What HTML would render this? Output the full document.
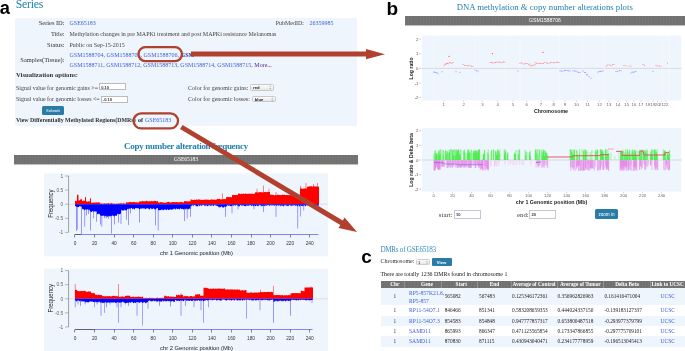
<!DOCTYPE html>
<html><head><meta charset="utf-8"><style>
html,body{margin:0;padding:0;background:#fff;width:685px;height:351px;overflow:hidden;}
.t{position:absolute;white-space:nowrap;}
.r{position:absolute;}
.ov{position:absolute;left:0;top:0;}
#root{filter:blur(0.3px);position:relative;width:685px;height:351px;overflow:hidden;}
</style></head><body><div id="root">
<div class="r" style="left:15px;top:17.5px;width:342px;height:108.5px;background:#eff5fc;"></div>
<div class="r" style="left:99px;top:83.4px;width:27.4px;height:7px;background:#fff;border:0.6px solid #bbb;box-sizing:border-box;"></div>
<div class="r" style="left:100.6px;top:95.6px;width:27.4px;height:7px;background:#fff;border:0.6px solid #bbb;box-sizing:border-box;"></div>
<div class="r" style="left:249.8px;top:84.2px;width:24px;height:6.4px;background:linear-gradient(#fdfdfd,#e6e6e6);border:0.5px solid #c8c8c8;border-radius:1.5px;box-sizing:border-box;"></div>
<div class="r" style="left:252px;top:96px;width:24px;height:6.4px;background:linear-gradient(#fdfdfd,#e6e6e6);border:0.5px solid #c8c8c8;border-radius:1.5px;box-sizing:border-box;"></div>
<div class="r" style="left:41.6px;top:105.6px;width:22.8px;height:9px;background:#2a7ca8;border-radius:1.5px;"></div>
<div class="r" style="left:13.6px;top:155px;width:344.4px;height:9px;background:#717171;background-image:repeating-linear-gradient(90deg,rgba(255,255,255,.035) 0 1px,rgba(0,0,0,0) 1px 3px);box-shadow:0 0.6px 0.6px rgba(0,0,0,.25);"></div>
<div class="r" style="left:405px;top:16px;width:280px;height:9px;background:#717171;background-image:repeating-linear-gradient(90deg,rgba(255,255,255,.035) 0 1px,rgba(0,0,0,0) 1px 3px);box-shadow:0 0.6px 0.6px rgba(0,0,0,.25);"></div>
<div class="r" style="left:453.6px;top:210px;width:27px;height:9.4px;background:#fff;border:0.6px solid #c4c4dc;box-sizing:border-box;"></div>
<div class="r" style="left:529.4px;top:210px;width:27px;height:9.4px;background:#fff;border:0.6px solid #c8c8c8;box-sizing:border-box;"></div>
<div class="r" style="left:595.4px;top:209.4px;width:22.2px;height:9.6px;background:#2a7ca8;border-radius:1.5px;"></div>
<div class="r" style="left:415.6px;top:259px;width:14.8px;height:6.4px;background:linear-gradient(#fdfdfd,#e6e6e6);border:0.5px solid #ccc;border-radius:1.5px;box-sizing:border-box;"></div>
<div class="r" style="left:431.6px;top:258px;width:20px;height:8.4px;background:#2a7ca8;border-radius:1px;"></div>
<div class="r" style="left:380.7px;top:280.5px;width:304.3px;height:7.7px;background:#717171;background-image:repeating-linear-gradient(90deg,rgba(255,255,255,.035) 0 1px,rgba(0,0,0,0) 1px 3px);"></div>
<div class="r" style="left:403.7px;top:280.5px;width:0.6px;height:7.7px;background:rgba(255,255,255,.22);"></div>
<div class="r" style="left:440.7px;top:280.5px;width:0.6px;height:7.7px;background:rgba(255,255,255,.22);"></div>
<div class="r" style="left:477.2px;top:280.5px;width:0.6px;height:7.7px;background:rgba(255,255,255,.22);"></div>
<div class="r" style="left:510.7px;top:280.5px;width:0.6px;height:7.7px;background:rgba(255,255,255,.22);"></div>
<div class="r" style="left:556.7px;top:280.5px;width:0.6px;height:7.7px;background:rgba(255,255,255,.22);"></div>
<div class="r" style="left:603.3000000000001px;top:280.5px;width:0.6px;height:7.7px;background:rgba(255,255,255,.22);"></div>
<div class="r" style="left:650.1px;top:280.5px;width:0.6px;height:7.7px;background:rgba(255,255,255,.22);"></div>
<div class="r" style="left:380.7px;top:288.2px;width:304.3px;height:16.80000000000001px;background:#eff5fc;"></div>
<div class="r" style="left:380.7px;top:315.5px;width:304.3px;height:10.5px;background:#eff5fc;"></div>
<div class="r" style="left:380.7px;top:336.4px;width:304.3px;height:10.200000000000045px;background:#eff5fc;"></div>
<svg class="ov" width="685" height="351" viewBox="0 0 685 351" font-family="Liberation Sans, sans-serif"><rect x="44" y="173.4" width="284" height="83" fill="#eff5fd"/>
<line x1="68.6" y1="176.0" x2="68.6" y2="232.39999999999998" stroke="#666" stroke-width="0.6"/>
<line x1="65" y1="176.0" x2="68.6" y2="176.0" stroke="#777" stroke-width="0.5"/>
<text x="63.2" y="177.7" font-size="4.8" text-anchor="end" fill="#666">1</text>
<line x1="65" y1="190.1" x2="68.6" y2="190.1" stroke="#777" stroke-width="0.5"/>
<text x="63.2" y="191.79999999999998" font-size="4.8" text-anchor="end" fill="#666">0.5</text>
<line x1="65" y1="204.2" x2="68.6" y2="204.2" stroke="#777" stroke-width="0.5"/>
<text x="63.2" y="205.89999999999998" font-size="4.8" text-anchor="end" fill="#666">0</text>
<line x1="65" y1="218.29999999999998" x2="68.6" y2="218.29999999999998" stroke="#777" stroke-width="0.5"/>
<text x="63.2" y="219.99999999999997" font-size="4.8" text-anchor="end" fill="#666">-0.5</text>
<line x1="65" y1="232.39999999999998" x2="68.6" y2="232.39999999999998" stroke="#777" stroke-width="0.5"/>
<text x="63.2" y="234.09999999999997" font-size="4.8" text-anchor="end" fill="#666">-1</text>
<line x1="69" y1="204.2" x2="328" y2="204.2" stroke="#ccc" stroke-width="0.5"/>
<line x1="77.5" y1="204.2" x2="77.5" y2="194.32999999999998" stroke="#f33" stroke-width="0.6"/>
<line x1="81" y1="204.2" x2="81" y2="198.56" stroke="#f33" stroke-width="0.6"/>
<line x1="85.5" y1="204.2" x2="85.5" y2="197.14999999999998" stroke="#f33" stroke-width="0.6"/>
<line x1="90.5" y1="204.2" x2="90.5" y2="197.99599999999998" stroke="#f33" stroke-width="0.6"/>
<line x1="222.5" y1="204.2" x2="222.5" y2="193.48399999999998" stroke="#f33" stroke-width="0.6"/>
<line x1="257" y1="204.2" x2="257" y2="188.69" stroke="#f33" stroke-width="0.6"/>
<line x1="263.5" y1="204.2" x2="263.5" y2="185.588" stroke="#f33" stroke-width="0.6"/>
<line x1="269" y1="204.2" x2="269" y2="188.69" stroke="#f33" stroke-width="0.6"/>
<line x1="276" y1="204.2" x2="276" y2="192.07399999999998" stroke="#f33" stroke-width="0.6"/>
<line x1="300.5" y1="204.2" x2="300.5" y2="185.86999999999998" stroke="#f33" stroke-width="0.6"/>
<line x1="306" y1="204.2" x2="306" y2="183.04999999999998" stroke="#f33" stroke-width="0.6"/>
<line x1="313.5" y1="204.2" x2="313.5" y2="183.896" stroke="#f33" stroke-width="0.6"/>
<line x1="317.5" y1="204.2" x2="317.5" y2="183.04999999999998" stroke="#f33" stroke-width="0.6"/>
<line x1="76.5" y1="204.2" x2="76.5" y2="230.98999999999998" stroke="#5050ff" stroke-width="0.7" opacity="0.8"/>
<line x1="77.3" y1="204.2" x2="77.3" y2="229.57999999999998" stroke="#5050ff" stroke-width="0.7" opacity="0.8"/>
<line x1="81.5" y1="204.2" x2="81.5" y2="234.374" stroke="#5050ff" stroke-width="0.7" opacity="0.8"/>
<line x1="84.7" y1="204.2" x2="84.7" y2="226.76" stroke="#5050ff" stroke-width="0.7" opacity="0.8"/>
<line x1="86.5" y1="204.2" x2="86.5" y2="215.48" stroke="#5050ff" stroke-width="0.7" opacity="0.8"/>
<line x1="88.5" y1="204.2" x2="88.5" y2="214.07" stroke="#5050ff" stroke-width="0.7" opacity="0.8"/>
<line x1="90.5" y1="204.2" x2="90.5" y2="230.426" stroke="#5050ff" stroke-width="0.7" opacity="0.8"/>
<line x1="93.5" y1="204.2" x2="93.5" y2="218.29999999999998" stroke="#5050ff" stroke-width="0.7" opacity="0.8"/>
<line x1="96.5" y1="204.2" x2="96.5" y2="221.684" stroke="#5050ff" stroke-width="0.7" opacity="0.8"/>
<line x1="100.5" y1="204.2" x2="100.5" y2="224.504" stroke="#5050ff" stroke-width="0.7" opacity="0.8"/>
<line x1="101.8" y1="204.2" x2="101.8" y2="226.76" stroke="#5050ff" stroke-width="0.7" opacity="0.8"/>
<line x1="104.5" y1="204.2" x2="104.5" y2="218.29999999999998" stroke="#5050ff" stroke-width="0.7" opacity="0.8"/>
<line x1="106.5" y1="204.2" x2="106.5" y2="218.29999999999998" stroke="#5050ff" stroke-width="0.7" opacity="0.8"/>
<line x1="108.5" y1="204.2" x2="108.5" y2="218.86399999999998" stroke="#5050ff" stroke-width="0.7" opacity="0.8"/>
<line x1="111.5" y1="204.2" x2="111.5" y2="233.528" stroke="#5050ff" stroke-width="0.7" opacity="0.8"/>
<line x1="114.5" y1="204.2" x2="114.5" y2="224.504" stroke="#5050ff" stroke-width="0.7" opacity="0.8"/>
<line x1="118.5" y1="204.2" x2="118.5" y2="222.53" stroke="#5050ff" stroke-width="0.7" opacity="0.8"/>
<line x1="121" y1="204.2" x2="121" y2="223.94" stroke="#5050ff" stroke-width="0.7" opacity="0.8"/>
<line x1="126.5" y1="204.2" x2="126.5" y2="219.70999999999998" stroke="#5050ff" stroke-width="0.7" opacity="0.8"/>
<line x1="128.5" y1="204.2" x2="128.5" y2="225.06799999999998" stroke="#5050ff" stroke-width="0.7" opacity="0.8"/>
<line x1="130.5" y1="204.2" x2="130.5" y2="213.506" stroke="#5050ff" stroke-width="0.7" opacity="0.8"/>
<line x1="139.5" y1="204.2" x2="139.5" y2="222.53" stroke="#5050ff" stroke-width="0.7" opacity="0.8"/>
<line x1="155.5" y1="204.2" x2="155.5" y2="225.35" stroke="#5050ff" stroke-width="0.7" opacity="0.8"/>
<line x1="158.2" y1="204.2" x2="158.2" y2="230.426" stroke="#5050ff" stroke-width="0.7" opacity="0.8"/>
<line x1="184.5" y1="204.2" x2="184.5" y2="221.11999999999998" stroke="#5050ff" stroke-width="0.7" opacity="0.8"/>
<line x1="187.2" y1="204.2" x2="187.2" y2="218.582" stroke="#5050ff" stroke-width="0.7" opacity="0.8"/>
<line x1="190.5" y1="204.2" x2="190.5" y2="216.89" stroke="#5050ff" stroke-width="0.7" opacity="0.8"/>
<line x1="225.5" y1="204.2" x2="225.5" y2="216.89" stroke="#5050ff" stroke-width="0.7" opacity="0.8"/>
<line x1="232" y1="204.2" x2="232" y2="213.224" stroke="#5050ff" stroke-width="0.7" opacity="0.8"/>
<line x1="238" y1="204.2" x2="238" y2="209.27599999999998" stroke="#5050ff" stroke-width="0.7" opacity="0.8"/>
<line x1="254" y1="204.2" x2="254" y2="209.27599999999998" stroke="#5050ff" stroke-width="0.7" opacity="0.8"/>
<line x1="263.5" y1="204.2" x2="263.5" y2="212.096" stroke="#5050ff" stroke-width="0.7" opacity="0.8"/>
<line x1="276" y1="204.2" x2="276" y2="216.89" stroke="#5050ff" stroke-width="0.7" opacity="0.8"/>
<line x1="297.7" y1="204.2" x2="297.7" y2="228.452" stroke="#5050ff" stroke-width="0.7" opacity="0.8"/>
<line x1="300.6" y1="204.2" x2="300.6" y2="216.60799999999998" stroke="#5050ff" stroke-width="0.7" opacity="0.8"/>
<line x1="303.7" y1="204.2" x2="303.7" y2="210.404" stroke="#5050ff" stroke-width="0.7" opacity="0.8"/>
<polygon fill="#f00" points="75.0,204.2 75.0,201.0 75.5,201.1 76.0,200.7 76.5,201.2 77.0,200.8 77.0,194.9 77.5,195.0 78.0,195.3 78.5,194.9 78.5,200.2 79.0,200.6 79.5,200.3 80.0,200.3 80.0,199.8 80.5,199.8 81.0,199.5 81.5,199.1 82.0,199.4 82.0,201.1 82.5,201.1 83.0,200.7 83.5,200.4 84.0,200.8 84.5,200.9 85.0,200.8 85.0,196.7 85.5,197.5 86.0,197.1 86.0,201.1 86.5,201.6 87.0,201.7 87.5,201.7 88.0,201.5 88.5,201.1 89.0,201.7 89.5,201.3 90.0,201.4 90.0,198.4 90.5,198.7 91.0,198.6 91.0,202.5 91.5,202.9 92.0,202.9 92.5,202.8 93.0,202.4 93.5,202.6 94.0,202.7 94.5,202.4 95.0,202.5 95.5,202.7 96.0,202.3 96.5,202.3 97.0,202.7 97.5,202.4 98.0,202.5 98.5,202.2 99.0,202.3 99.5,202.7 100.0,202.5 100.0,203.1 100.5,203.8 101.0,203.6 101.5,203.3 102.0,203.8 102.5,203.5 103.0,203.9 103.5,203.4 104.0,203.3 104.5,203.4 105.0,203.2 105.5,203.7 106.0,203.3 106.5,203.4 107.0,203.4 107.5,203.5 108.0,203.2 108.5,203.1 109.0,203.5 109.5,203.4 110.0,203.9 110.5,203.3 111.0,203.4 111.5,203.1 112.0,203.2 112.5,203.7 113.0,203.6 113.5,203.4 114.0,203.9 114.5,203.5 115.0,203.8 115.5,203.8 116.0,203.9 116.5,203.3 117.0,203.8 117.5,203.7 118.0,203.6 118.5,203.2 119.0,203.8 119.5,203.5 120.0,203.5 120.5,203.2 121.0,203.2 121.5,203.2 122.0,203.7 122.5,203.6 123.0,203.6 123.5,203.2 124.0,203.1 124.5,203.8 125.0,203.8 125.5,203.7 126.0,203.5 126.0,202.5 126.5,202.2 127.0,202.2 127.5,202.4 128.0,202.6 128.5,202.3 129.0,202.3 129.5,202.2 130.0,201.8 130.5,202.1 131.0,202.2 131.5,202.1 132.0,202.1 132.5,202.6 133.0,201.9 133.5,202.0 134.0,201.9 134.5,202.0 135.0,202.3 135.5,202.3 136.0,202.6 136.5,202.1 137.0,202.6 137.5,202.6 138.0,202.5 138.5,202.5 139.0,202.2 139.0,201.2 139.5,201.5 140.0,201.5 140.5,201.4 141.0,201.4 141.5,201.2 142.0,201.5 142.5,200.8 143.0,201.0 143.5,201.4 144.0,201.3 144.5,201.2 145.0,201.2 145.5,201.4 146.0,200.8 146.5,200.7 147.0,201.1 147.5,201.1 148.0,201.4 148.5,201.4 149.0,201.2 149.5,201.3 150.0,200.8 150.5,201.4 151.0,201.5 151.5,200.7 152.0,201.1 152.5,201.4 153.0,201.1 153.5,201.5 154.0,201.1 154.5,200.7 155.0,200.8 155.5,200.9 156.0,201.3 156.5,201.2 157.0,201.4 157.5,200.9 158.0,201.1 158.0,202.5 158.5,202.3 159.0,202.7 159.5,202.7 160.0,202.2 160.5,202.1 161.0,202.2 161.5,202.2 162.0,202.2 162.5,202.3 163.0,202.7 163.5,202.5 164.0,202.6 164.5,202.9 165.0,202.9 165.5,202.7 166.0,202.7 166.5,202.3 167.0,202.5 167.0,201.8 167.5,202.3 168.0,201.9 168.5,201.8 169.0,201.8 169.5,202.3 170.0,202.5 170.5,202.5 171.0,202.5 171.5,202.5 172.0,202.1 172.5,201.9 173.0,201.9 173.5,202.2 174.0,202.1 174.5,202.0 175.0,202.6 175.5,202.1 176.0,201.9 176.5,202.0 177.0,202.0 177.5,202.2 178.0,202.5 178.5,202.0 179.0,202.4 179.5,202.0 180.0,201.8 180.5,202.3 181.0,202.3 181.5,201.8 182.0,202.0 182.5,202.5 183.0,202.5 183.5,202.5 184.0,202.2 184.0,201.0 184.5,201.1 185.0,201.7 185.5,201.1 186.0,201.0 186.5,201.2 187.0,201.5 187.5,201.3 188.0,201.7 188.5,201.8 189.0,201.0 189.5,201.3 190.0,201.4 190.5,201.4 190.5,199.3 191.0,199.7 191.5,199.4 192.0,199.4 192.5,199.9 193.0,199.9 193.5,199.9 194.0,199.9 194.5,199.6 195.0,199.9 195.5,199.8 196.0,200.0 196.5,199.3 197.0,199.8 197.5,199.7 198.0,199.6 198.5,199.3 199.0,199.8 199.5,199.3 200.0,199.7 200.5,199.7 201.0,199.7 201.5,200.1 202.0,199.7 202.5,200.0 203.0,200.1 203.5,199.4 204.0,200.0 204.5,199.7 205.0,199.5 205.5,199.6 206.0,199.8 206.5,199.7 207.0,199.6 207.5,199.4 208.0,200.0 208.5,199.6 209.0,199.9 209.5,199.9 210.0,199.5 210.5,199.7 211.0,199.6 211.5,199.5 212.0,199.3 212.5,199.7 213.0,199.6 213.5,199.7 214.0,199.7 214.5,199.5 215.0,199.7 215.5,199.7 216.0,199.7 216.5,199.3 217.0,199.7 217.0,199.0 217.5,198.8 218.0,198.7 218.5,199.3 219.0,199.1 219.5,198.7 220.0,198.8 220.5,199.4 221.0,199.4 221.5,199.2 222.0,199.5 222.5,199.3 223.0,199.5 223.5,199.0 224.0,198.9 224.5,198.8 225.0,199.4 225.5,198.9 226.0,199.1 226.0,197.0 226.5,197.5 227.0,196.8 227.5,196.8 228.0,197.4 228.5,196.8 229.0,197.2 229.5,197.2 230.0,196.7 230.5,196.9 231.0,197.4 231.5,197.2 232.0,197.1 232.0,194.9 232.5,195.0 233.0,195.2 233.5,195.0 234.0,194.7 234.5,195.3 235.0,194.8 235.5,194.9 236.0,195.3 236.5,195.0 237.0,194.8 237.5,194.9 238.0,194.9 238.0,194.1 238.5,193.4 239.0,193.5 239.5,193.4 240.0,194.1 240.5,194.0 241.0,194.2 241.5,193.5 242.0,194.0 242.5,194.1 243.0,193.8 243.5,193.4 244.0,193.5 244.5,194.0 245.0,194.1 245.5,193.4 246.0,193.7 246.5,193.6 247.0,194.1 247.5,194.1 248.0,193.6 248.5,193.8 249.0,194.1 249.5,193.4 250.0,193.7 250.5,193.5 251.0,194.1 251.5,193.5 252.0,194.1 252.5,193.5 253.0,193.8 253.5,193.9 254.0,193.7 254.5,193.4 255.0,193.8 255.0,192.3 255.5,192.4 256.0,192.1 256.5,192.3 257.0,192.4 257.5,192.4 258.0,192.5 258.5,192.3 259.0,192.2 259.5,192.2 260.0,191.9 260.5,192.3 261.0,192.1 261.5,192.3 262.0,192.2 262.5,192.5 263.0,192.3 263.5,192.5 264.0,191.9 264.5,192.0 265.0,192.3 265.5,192.1 266.0,191.7 266.5,192.4 267.0,191.8 267.5,192.1 268.0,192.1 268.5,191.8 269.0,192.2 269.5,192.1 270.0,192.1 270.0,194.7 270.5,194.5 271.0,195.0 271.5,194.6 272.0,194.7 272.5,194.8 273.0,195.0 273.5,195.0 274.0,195.3 274.5,195.2 275.0,195.3 275.5,194.7 276.0,195.1 276.5,195.2 277.0,195.2 277.5,194.6 278.0,194.6 278.5,194.7 279.0,195.1 279.5,195.1 280.0,195.1 280.5,194.9 281.0,195.2 281.5,194.9 282.0,195.1 282.5,194.5 283.0,194.5 283.5,194.9 284.0,195.1 284.5,194.5 285.0,195.1 285.5,195.0 286.0,195.3 286.5,195.0 287.0,194.9 287.5,194.9 288.0,195.1 288.5,194.9 289.0,195.3 289.5,195.1 290.0,195.2 290.5,195.0 291.0,195.3 291.5,195.3 292.0,195.1 292.5,195.1 293.0,194.8 293.5,194.9 294.0,194.7 294.5,194.8 295.0,194.7 295.5,194.6 296.0,195.0 296.5,195.0 297.0,194.5 297.5,195.2 298.0,194.7 298.5,194.8 299.0,195.3 299.5,194.6 300.0,194.9 300.0,188.4 300.5,188.6 301.0,188.5 301.5,188.4 302.0,189.0 302.5,188.7 303.0,188.7 303.5,188.4 304.0,188.4 304.5,188.4 305.0,188.6 305.5,188.4 306.0,188.5 306.5,188.5 307.0,188.7 307.0,186.7 307.5,186.8 308.0,186.7 308.5,186.6 309.0,186.8 309.5,186.1 310.0,186.4 310.5,186.3 311.0,186.3 311.5,186.3 312.0,186.4 312.5,186.9 313.0,186.2 313.5,186.2 314.0,186.4 314.5,186.4 315.0,186.3 315.5,186.8 316.0,186.2 316.5,186.6 317.0,186.8 317.5,186.6 318.0,186.2 318.5,186.7 319.0,186.4 319.0,204.2"/>
<polygon fill="#00f" points="75.0,204.2 75.0,206.0 75.5,206.4 76.0,205.6 76.0,206.7 76.5,206.5 77.0,206.7 77.5,207.0 78.0,207.2 78.5,206.9 79.0,207.0 79.5,206.0 80.0,206.1 80.5,206.3 81.0,207.1 81.5,206.4 82.0,206.7 82.0,209.7 82.5,208.7 83.0,208.8 83.5,209.2 84.0,209.8 84.5,209.9 85.0,209.9 85.5,209.2 86.0,209.6 86.5,209.5 87.0,209.5 87.5,208.9 88.0,210.2 88.5,209.0 89.0,210.4 89.5,210.3 90.0,209.6 90.0,210.7 90.5,211.5 91.0,212.1 91.5,212.3 92.0,211.4 92.5,211.1 93.0,211.0 93.5,212.3 94.0,211.0 94.5,211.7 95.0,210.9 95.5,211.6 96.0,212.3 96.5,210.9 97.0,211.5 97.0,214.3 97.5,213.8 98.0,214.4 98.5,214.1 99.0,213.3 99.5,214.5 100.0,213.8 100.0,216.0 100.5,215.2 101.0,215.2 101.5,216.0 102.0,216.0 102.5,215.7 103.0,215.4 103.5,215.8 104.0,215.7 104.5,216.6 105.0,215.2 105.5,216.5 106.0,216.6 106.5,215.4 107.0,216.8 107.5,216.4 108.0,216.7 108.5,215.7 109.0,215.8 109.5,215.9 110.0,216.9 110.5,216.2 111.0,215.8 111.5,215.9 112.0,215.7 112.5,215.3 113.0,215.4 113.5,216.6 114.0,215.7 114.5,216.8 115.0,215.6 115.5,215.6 116.0,216.1 116.5,215.5 117.0,216.0 117.0,213.3 117.5,214.3 118.0,214.2 118.5,214.0 119.0,213.7 119.5,214.2 120.0,214.3 120.5,213.6 121.0,213.5 121.0,210.8 121.5,209.6 122.0,210.8 122.5,210.3 123.0,210.8 123.5,210.6 124.0,210.0 124.5,209.6 125.0,211.1 125.5,209.8 126.0,210.4 126.5,210.1 127.0,210.4 127.0,208.4 127.5,209.1 128.0,209.5 128.5,208.3 129.0,209.0 129.5,208.4 130.0,208.8 130.5,208.5 131.0,208.1 131.5,208.1 132.0,208.2 132.5,209.4 133.0,208.7 133.5,208.2 134.0,209.4 134.5,209.6 135.0,208.6 135.5,208.1 136.0,208.2 136.5,208.0 137.0,208.4 137.5,208.0 138.0,208.3 138.5,208.3 139.0,208.8 139.5,209.4 140.0,209.1 140.5,208.6 141.0,208.6 141.5,208.8 142.0,208.5 142.5,208.4 143.0,208.0 143.5,208.3 144.0,209.5 144.5,208.1 145.0,208.7 145.5,208.9 146.0,209.3 146.5,208.2 147.0,208.3 147.5,208.3 148.0,208.5 148.5,208.6 149.0,209.5 149.5,209.3 150.0,209.3 150.5,207.9 151.0,207.9 151.5,209.1 152.0,209.4 152.5,208.7 153.0,208.9 153.5,207.9 154.0,208.5 154.5,209.4 155.0,209.3 155.5,209.3 156.0,209.5 156.5,208.3 157.0,208.1 157.5,208.1 158.0,208.7 158.0,209.9 158.5,210.1 159.0,210.6 159.5,210.2 160.0,210.1 160.5,210.3 161.0,209.8 161.5,209.9 162.0,209.1 162.5,210.3 163.0,209.4 163.5,210.6 164.0,210.1 164.5,209.5 165.0,209.2 165.5,209.4 166.0,210.1 166.5,210.2 167.0,209.2 167.5,209.1 168.0,209.9 168.5,210.0 169.0,209.7 169.5,209.4 170.0,210.0 170.5,209.0 171.0,209.5 171.5,209.8 172.0,209.8 172.0,209.8 172.5,209.2 173.0,209.6 173.5,209.0 174.0,208.5 174.5,208.6 175.0,209.8 175.5,209.3 176.0,208.7 176.5,208.2 177.0,209.0 177.5,209.3 178.0,208.9 178.5,208.6 179.0,209.3 179.5,209.7 180.0,208.5 180.5,208.2 181.0,208.7 181.5,208.9 182.0,209.3 182.5,208.5 183.0,209.5 183.5,209.4 184.0,209.0 184.5,208.5 185.0,209.8 185.5,208.7 186.0,209.5 186.5,208.5 187.0,208.5 187.5,209.4 188.0,208.6 188.5,209.8 189.0,209.0 189.5,208.5 190.0,208.5 190.5,209.0 190.5,205.5 191.0,205.9 191.5,206.4 192.0,205.0 192.5,205.4 193.0,205.1 193.5,206.4 194.0,205.0 194.5,204.9 195.0,204.9 195.5,205.4 196.0,206.3 196.5,206.3 197.0,206.0 197.5,206.5 198.0,206.3 198.5,205.3 199.0,205.1 199.5,206.3 200.0,206.0 200.5,204.8 201.0,205.9 201.5,205.4 202.0,205.4 202.5,205.3 203.0,205.1 203.5,204.8 204.0,205.2 204.5,205.4 205.0,206.4 205.5,205.0 206.0,206.4 206.5,205.1 207.0,205.4 207.5,206.2 208.0,206.2 208.5,205.5 209.0,204.8 209.5,205.6 210.0,205.4 210.5,206.3 211.0,205.1 211.5,205.4 212.0,206.3 212.5,204.8 213.0,205.5 213.5,206.1 214.0,206.1 214.5,204.8 215.0,204.8 215.5,204.9 216.0,206.3 216.5,205.2 217.0,206.0 217.5,206.3 218.0,205.6 218.0,206.7 218.5,206.6 219.0,207.8 219.5,207.2 220.0,206.6 220.5,207.4 221.0,206.7 221.5,206.6 222.0,206.2 222.5,207.5 223.0,207.7 223.5,207.2 224.0,207.8 224.5,206.2 225.0,206.6 225.5,207.0 226.0,207.0 226.0,206.4 226.5,206.4 227.0,205.4 227.5,205.2 228.0,205.5 228.5,205.6 229.0,206.3 229.5,205.1 230.0,206.1 230.5,206.0 231.0,206.2 231.5,206.1 232.0,205.8 232.5,205.3 233.0,205.3 233.5,205.4 234.0,206.1 234.5,204.9 235.0,205.1 235.5,206.0 236.0,205.2 236.5,204.9 237.0,204.8 237.5,205.7 238.0,205.3 238.5,206.4 239.0,206.3 239.5,206.4 240.0,205.2 240.5,204.9 241.0,204.9 241.5,205.6 242.0,206.0 242.5,205.5 243.0,205.2 243.5,205.5 244.0,205.8 244.5,205.9 245.0,206.0 245.5,206.2 246.0,205.9 246.5,205.0 247.0,206.2 247.5,205.3 248.0,205.7 248.5,205.4 249.0,206.0 249.5,205.1 250.0,205.2 250.5,205.2 251.0,205.0 251.5,206.3 252.0,205.7 252.5,205.3 253.0,205.4 253.5,206.4 254.0,205.6 254.5,205.2 255.0,206.1 255.5,205.9 256.0,206.4 256.5,204.9 257.0,205.6 257.5,206.1 258.0,206.2 258.5,206.3 259.0,204.8 259.5,205.3 260.0,205.0 260.5,205.1 261.0,206.4 261.5,205.8 262.0,206.3 262.5,205.4 263.0,206.2 263.5,205.5 264.0,205.2 264.5,206.1 265.0,206.4 265.5,204.9 266.0,205.8 266.5,205.8 267.0,205.1 267.5,205.4 268.0,205.0 268.5,205.1 269.0,205.2 269.5,205.8 270.0,205.9 270.5,205.1 271.0,204.8 271.5,205.3 272.0,205.9 272.5,205.1 273.0,205.3 273.5,205.1 274.0,206.1 274.5,205.7 275.0,204.9 275.5,204.9 276.0,205.4 276.5,205.7 277.0,205.8 277.5,204.9 278.0,205.0 278.5,205.9 279.0,205.5 279.5,205.2 280.0,205.3 280.5,206.4 281.0,205.3 281.5,205.7 282.0,205.4 282.5,205.5 283.0,206.2 283.5,206.5 284.0,205.4 284.5,205.1 285.0,206.0 285.5,205.1 286.0,204.8 286.5,206.3 287.0,205.5 287.5,206.2 288.0,205.5 288.5,206.3 289.0,205.5 289.5,205.0 290.0,204.8 290.5,205.7 291.0,205.8 291.5,206.3 292.0,204.9 292.5,205.8 293.0,205.4 293.5,205.6 294.0,205.0 294.5,205.2 295.0,205.6 295.5,206.3 296.0,204.9 296.5,205.6 297.0,206.1 297.5,206.4 298.0,205.1 298.5,205.0 299.0,206.4 299.5,206.4 300.0,205.6 300.5,204.9 301.0,206.3 301.5,205.4 302.0,206.3 302.5,205.8 303.0,206.2 303.5,205.0 304.0,206.1 304.5,205.1 305.0,205.4 305.5,206.2 306.0,206.2 306.5,205.1 307.0,205.1 307.5,205.4 308.0,205.6 308.5,205.4 309.0,205.0 309.5,205.2 310.0,206.0 310.5,206.3 311.0,204.8 311.5,205.7 312.0,206.0 312.5,204.8 313.0,206.2 313.5,205.0 314.0,205.8 314.5,205.7 315.0,205.8 315.5,205.3 316.0,205.5 316.5,205.7 317.0,205.5 317.5,205.9 318.0,205.5 318.5,205.5 319.0,205.6 319.0,204.2"/>
<line x1="75" y1="234.5" x2="318.4" y2="234.5" stroke="#6868ee" stroke-width="0.8"/>
<line x1="75" y1="234.5" x2="81" y2="234.5" stroke="#555" stroke-width="0.8"/>
<line x1="74.5" y1="234.5" x2="74.5" y2="237.5" stroke="#555" stroke-width="0.7"/>
<text x="75.0" y="245.0" font-size="4.8" text-anchor="middle" fill="#333">0</text>
<line x1="94.5" y1="234.5" x2="94.5" y2="237.5" stroke="#555" stroke-width="0.7"/>
<text x="94.6" y="245.0" font-size="4.8" text-anchor="middle" fill="#333">20</text>
<line x1="114.5" y1="234.5" x2="114.5" y2="237.5" stroke="#555" stroke-width="0.7"/>
<text x="114.1" y="245.0" font-size="4.8" text-anchor="middle" fill="#333">40</text>
<line x1="133.5" y1="234.5" x2="133.5" y2="237.5" stroke="#555" stroke-width="0.7"/>
<text x="133.7" y="245.0" font-size="4.8" text-anchor="middle" fill="#333">60</text>
<line x1="153.5" y1="234.5" x2="153.5" y2="237.5" stroke="#555" stroke-width="0.7"/>
<text x="153.2" y="245.0" font-size="4.8" text-anchor="middle" fill="#333">80</text>
<line x1="172.5" y1="234.5" x2="172.5" y2="237.5" stroke="#555" stroke-width="0.7"/>
<text x="172.8" y="245.0" font-size="4.8" text-anchor="middle" fill="#333">100</text>
<line x1="192.5" y1="234.5" x2="192.5" y2="237.5" stroke="#555" stroke-width="0.7"/>
<text x="192.4" y="245.0" font-size="4.8" text-anchor="middle" fill="#333">120</text>
<line x1="211.5" y1="234.5" x2="211.5" y2="237.5" stroke="#555" stroke-width="0.7"/>
<text x="211.9" y="245.0" font-size="4.8" text-anchor="middle" fill="#333">140</text>
<line x1="231.5" y1="234.5" x2="231.5" y2="237.5" stroke="#555" stroke-width="0.7"/>
<text x="231.5" y="245.0" font-size="4.8" text-anchor="middle" fill="#333">160</text>
<line x1="251.5" y1="234.5" x2="251.5" y2="237.5" stroke="#555" stroke-width="0.7"/>
<text x="251.0" y="245.0" font-size="4.8" text-anchor="middle" fill="#333">180</text>
<line x1="270.5" y1="234.5" x2="270.5" y2="237.5" stroke="#555" stroke-width="0.7"/>
<text x="270.6" y="245.0" font-size="4.8" text-anchor="middle" fill="#333">200</text>
<line x1="290.5" y1="234.5" x2="290.5" y2="237.5" stroke="#555" stroke-width="0.7"/>
<text x="290.2" y="245.0" font-size="4.8" text-anchor="middle" fill="#333">220</text>
<line x1="309.5" y1="234.5" x2="309.5" y2="237.5" stroke="#555" stroke-width="0.7"/>
<text x="309.7" y="245.0" font-size="4.8" text-anchor="middle" fill="#333">240</text>
<text x="196.5" y="255.3" font-size="5.8" text-anchor="middle" fill="#222">chr 1 Genomic position (Mb)</text>
<text transform="translate(53.2,203.6) rotate(-90) scale(0.86,1)" font-size="7" text-anchor="middle" fill="#222">Frequency</text>
<rect x="44" y="268.6" width="284" height="90" fill="#eff5fd"/>
<line x1="68.6" y1="270.6" x2="68.6" y2="327.0" stroke="#666" stroke-width="0.6"/>
<line x1="65" y1="270.6" x2="68.6" y2="270.6" stroke="#777" stroke-width="0.5"/>
<text x="63.2" y="272.3" font-size="4.8" text-anchor="end" fill="#666">1</text>
<line x1="65" y1="284.7" x2="68.6" y2="284.7" stroke="#777" stroke-width="0.5"/>
<text x="63.2" y="286.4" font-size="4.8" text-anchor="end" fill="#666">0.5</text>
<line x1="65" y1="298.8" x2="68.6" y2="298.8" stroke="#777" stroke-width="0.5"/>
<text x="63.2" y="300.5" font-size="4.8" text-anchor="end" fill="#666">0</text>
<line x1="65" y1="312.90000000000003" x2="68.6" y2="312.90000000000003" stroke="#777" stroke-width="0.5"/>
<text x="63.2" y="314.6" font-size="4.8" text-anchor="end" fill="#666">-0.5</text>
<line x1="65" y1="327.0" x2="68.6" y2="327.0" stroke="#777" stroke-width="0.5"/>
<text x="63.2" y="328.7" font-size="4.8" text-anchor="end" fill="#666">-1</text>
<line x1="69" y1="298.8" x2="328" y2="298.8" stroke="#ccc" stroke-width="0.5"/>
<line x1="75.3" y1="298.8" x2="75.3" y2="284.136" stroke="#f33" stroke-width="0.6"/>
<line x1="118.5" y1="298.8" x2="118.5" y2="284.136" stroke="#f33" stroke-width="0.6"/>
<line x1="165" y1="298.8" x2="165" y2="295.134" stroke="#f33" stroke-width="0.6"/>
<line x1="181" y1="298.8" x2="181" y2="293.16" stroke="#f33" stroke-width="0.6"/>
<line x1="260.5" y1="298.8" x2="260.5" y2="289.776" stroke="#f33" stroke-width="0.6"/>
<line x1="273.5" y1="298.8" x2="273.5" y2="285.82800000000003" stroke="#f33" stroke-width="0.6"/>
<line x1="301" y1="298.8" x2="301" y2="290.34000000000003" stroke="#f33" stroke-width="0.6"/>
<line x1="306" y1="298.8" x2="306" y2="286.956" stroke="#f33" stroke-width="0.6"/>
<line x1="311" y1="298.8" x2="311" y2="286.392" stroke="#f33" stroke-width="0.6"/>
<line x1="75.3" y1="298.8" x2="75.3" y2="307.26" stroke="#5050ff" stroke-width="0.7" opacity="0.8"/>
<line x1="78" y1="298.8" x2="78" y2="304.44" stroke="#5050ff" stroke-width="0.7" opacity="0.8"/>
<line x1="80.5" y1="298.8" x2="80.5" y2="305.85" stroke="#5050ff" stroke-width="0.7" opacity="0.8"/>
<line x1="85" y1="298.8" x2="85" y2="304.44" stroke="#5050ff" stroke-width="0.7" opacity="0.8"/>
<line x1="88" y1="298.8" x2="88" y2="303.03000000000003" stroke="#5050ff" stroke-width="0.7" opacity="0.8"/>
<line x1="94.4" y1="298.8" x2="94.4" y2="307.26" stroke="#5050ff" stroke-width="0.7" opacity="0.8"/>
<line x1="97" y1="298.8" x2="97" y2="304.44" stroke="#5050ff" stroke-width="0.7" opacity="0.8"/>
<line x1="101" y1="298.8" x2="101" y2="315.72" stroke="#5050ff" stroke-width="0.7" opacity="0.8"/>
<line x1="104.4" y1="298.8" x2="104.4" y2="312.90000000000003" stroke="#5050ff" stroke-width="0.7" opacity="0.8"/>
<line x1="106.5" y1="298.8" x2="106.5" y2="307.26" stroke="#5050ff" stroke-width="0.7" opacity="0.8"/>
<line x1="110" y1="298.8" x2="110" y2="304.44" stroke="#5050ff" stroke-width="0.7" opacity="0.8"/>
<line x1="117" y1="298.8" x2="117" y2="307.26" stroke="#5050ff" stroke-width="0.7" opacity="0.8"/>
<line x1="118.4" y1="298.8" x2="118.4" y2="322.77" stroke="#5050ff" stroke-width="0.7" opacity="0.8"/>
<line x1="121" y1="298.8" x2="121" y2="307.26" stroke="#5050ff" stroke-width="0.7" opacity="0.8"/>
<line x1="125.5" y1="298.8" x2="125.5" y2="304.44" stroke="#5050ff" stroke-width="0.7" opacity="0.8"/>
<line x1="128.5" y1="298.8" x2="128.5" y2="305.85" stroke="#5050ff" stroke-width="0.7" opacity="0.8"/>
<line x1="137" y1="298.8" x2="137" y2="315.72" stroke="#5050ff" stroke-width="0.7" opacity="0.8"/>
<line x1="142.4" y1="298.8" x2="142.4" y2="325.59000000000003" stroke="#5050ff" stroke-width="0.7" opacity="0.8"/>
<line x1="148" y1="298.8" x2="148" y2="308.67" stroke="#5050ff" stroke-width="0.7" opacity="0.8"/>
<line x1="159.5" y1="298.8" x2="159.5" y2="305.85" stroke="#5050ff" stroke-width="0.7" opacity="0.8"/>
<line x1="170.5" y1="298.8" x2="170.5" y2="306.414" stroke="#5050ff" stroke-width="0.7" opacity="0.8"/>
<line x1="181" y1="298.8" x2="181" y2="315.72" stroke="#5050ff" stroke-width="0.7" opacity="0.8"/>
<line x1="185.5" y1="298.8" x2="185.5" y2="305.85" stroke="#5050ff" stroke-width="0.7" opacity="0.8"/>
<line x1="194" y1="298.8" x2="194" y2="307.26" stroke="#5050ff" stroke-width="0.7" opacity="0.8"/>
<line x1="201" y1="298.8" x2="201" y2="310.08000000000004" stroke="#5050ff" stroke-width="0.7" opacity="0.8"/>
<line x1="203.6" y1="298.8" x2="203.6" y2="322.77" stroke="#5050ff" stroke-width="0.7" opacity="0.8"/>
<line x1="208.4" y1="298.8" x2="208.4" y2="307.26" stroke="#5050ff" stroke-width="0.7" opacity="0.8"/>
<line x1="246.4" y1="298.8" x2="246.4" y2="318.54" stroke="#5050ff" stroke-width="0.7" opacity="0.8"/>
<line x1="260" y1="298.8" x2="260" y2="310.08000000000004" stroke="#5050ff" stroke-width="0.7" opacity="0.8"/>
<line x1="273.5" y1="298.8" x2="273.5" y2="322.77" stroke="#5050ff" stroke-width="0.7" opacity="0.8"/>
<line x1="290.5" y1="298.8" x2="290.5" y2="315.72" stroke="#5050ff" stroke-width="0.7" opacity="0.8"/>
<line x1="312" y1="298.8" x2="312" y2="303.03000000000003" stroke="#5050ff" stroke-width="0.7" opacity="0.8"/>
<polygon fill="#f00" points="75.0,298.8 75.0,290.2 75.5,289.7 76.0,289.8 76.5,290.0 77.0,289.8 77.0,290.7 77.5,290.7 78.0,290.9 78.5,291.2 79.0,290.9 79.5,291.2 80.0,291.2 80.5,291.0 81.0,291.2 81.5,291.0 82.0,290.9 82.5,291.3 83.0,290.8 83.5,291.3 84.0,290.7 84.5,290.7 85.0,290.9 85.5,291.3 86.0,290.9 86.0,291.7 86.5,291.9 87.0,291.4 87.5,292.1 88.0,291.4 88.5,291.3 89.0,291.6 89.5,291.5 90.0,292.0 90.5,291.3 91.0,291.8 91.0,293.2 91.5,292.8 92.0,292.8 92.5,293.4 93.0,292.9 93.5,292.8 94.0,293.5 94.5,293.3 95.0,293.2 95.0,294.6 95.5,295.1 96.0,294.5 96.5,295.0 97.0,294.6 97.5,295.2 98.0,294.9 98.5,294.5 99.0,295.1 99.5,295.1 100.0,294.8 100.5,295.0 101.0,295.2 101.5,295.1 102.0,294.9 102.0,296.5 102.5,295.9 103.0,296.1 103.5,295.9 104.0,296.5 104.5,296.0 105.0,296.6 105.5,296.2 106.0,296.1 106.5,296.4 107.0,295.9 107.5,296.2 108.0,296.2 108.5,295.9 109.0,296.6 109.5,295.8 110.0,296.2 110.5,296.4 111.0,296.0 111.5,296.5 112.0,296.3 112.0,295.6 112.5,295.9 113.0,296.1 113.5,295.8 114.0,296.0 114.5,296.3 115.0,295.8 115.5,296.4 116.0,295.7 116.5,296.2 117.0,296.0 117.0,296.4 117.5,296.1 118.0,296.5 118.5,296.4 119.0,296.7 119.5,297.0 120.0,296.9 120.5,296.8 121.0,296.4 121.5,296.6 122.0,296.5 122.5,296.2 123.0,296.9 123.5,296.8 124.0,296.4 124.5,296.9 125.0,296.5 125.0,296.1 125.5,295.8 126.0,296.0 126.5,295.8 127.0,295.9 127.5,295.6 128.0,295.6 128.5,295.9 129.0,295.6 129.5,295.7 130.0,295.7 130.0,297.1 130.5,296.5 131.0,297.0 131.5,297.1 132.0,297.2 132.5,296.7 133.0,296.5 133.5,296.6 134.0,296.9 134.5,297.0 135.0,297.2 135.5,296.7 136.0,296.8 136.5,297.0 137.0,296.7 137.5,296.9 138.0,296.5 138.5,296.6 139.0,297.0 139.5,296.5 140.0,297.2 140.5,296.8 141.0,296.9 141.5,297.0 142.0,297.2 142.5,296.6 143.0,296.8 143.0,298.4 143.5,297.9 144.0,297.6 144.5,298.3 145.0,298.2 145.5,297.9 146.0,297.9 146.5,297.8 147.0,297.7 147.5,298.2 148.0,298.0 148.0,298.1 148.5,298.1 149.0,298.3 149.5,297.6 150.0,297.7 150.5,297.8 151.0,298.4 151.5,297.7 152.0,297.7 152.5,298.0 153.0,297.7 153.5,298.0 154.0,298.2 154.5,298.3 155.0,298.2 155.5,298.3 156.0,298.1 156.5,297.7 157.0,297.8 157.5,297.7 158.0,297.8 158.5,298.2 159.0,297.9 159.5,298.0 160.0,297.7 160.5,297.9 161.0,298.2 161.5,297.8 162.0,297.6 162.5,298.2 163.0,297.6 163.5,298.4 164.0,298.0 164.0,296.5 164.5,296.5 165.0,296.1 165.5,295.9 166.0,296.1 166.5,296.4 167.0,295.9 167.5,296.4 168.0,296.5 168.5,295.9 169.0,296.3 169.0,296.7 169.5,296.7 170.0,296.7 170.5,296.4 171.0,296.9 171.5,296.5 172.0,296.7 172.5,296.5 173.0,296.9 173.5,296.6 174.0,296.8 174.5,297.0 175.0,297.1 175.5,296.7 176.0,296.8 176.0,295.2 176.5,294.5 177.0,295.2 177.5,295.3 178.0,295.2 178.5,294.5 179.0,295.0 179.5,295.2 180.0,295.3 180.5,295.2 181.0,294.7 181.5,294.7 182.0,294.7 182.5,294.7 183.0,294.9 183.0,296.6 183.5,296.2 184.0,296.4 184.5,296.0 185.0,296.0 185.5,295.9 186.0,296.6 186.5,296.0 187.0,295.9 187.5,295.9 188.0,296.6 188.5,296.5 189.0,296.6 189.5,296.7 190.0,296.0 190.5,296.0 191.0,296.1 191.5,296.0 192.0,296.2 192.5,296.4 193.0,296.6 193.5,296.6 194.0,296.0 194.5,296.5 195.0,296.3 195.0,294.4 195.5,294.4 196.0,294.7 196.5,294.5 197.0,294.5 197.5,294.1 198.0,294.4 198.5,294.4 199.0,293.9 199.5,294.3 200.0,294.3 200.0,295.4 200.5,295.6 201.0,296.1 201.5,295.8 202.0,295.8 202.5,295.5 203.0,295.8 203.5,295.7 203.5,287.6 204.0,287.8 204.5,288.0 205.0,287.5 205.5,288.1 206.0,287.5 206.5,288.1 207.0,288.2 207.5,288.1 208.0,287.8 208.0,288.4 208.5,288.2 209.0,289.1 209.5,288.7 210.0,288.7 210.5,288.4 211.0,288.9 211.5,288.7 212.0,288.8 212.5,288.4 213.0,288.9 213.5,288.3 214.0,288.8 214.5,288.9 215.0,288.5 215.5,288.6 216.0,289.0 216.5,288.5 217.0,289.0 217.5,288.4 218.0,288.5 218.5,288.4 219.0,288.5 219.5,288.8 220.0,288.7 220.5,288.7 221.0,288.3 221.5,289.0 222.0,288.3 222.5,289.0 223.0,288.9 223.5,288.8 224.0,288.3 224.5,288.6 225.0,288.6 225.0,289.6 225.5,289.2 226.0,289.7 226.5,289.5 227.0,289.5 227.5,289.3 228.0,289.3 228.5,289.4 229.0,289.6 229.5,289.6 230.0,289.8 230.5,289.2 231.0,289.4 231.5,289.3 232.0,289.8 232.5,289.5 233.0,289.3 233.5,289.4 234.0,289.8 234.5,289.5 235.0,289.2 235.5,289.7 236.0,289.8 236.5,289.7 237.0,289.3 237.5,289.2 238.0,289.8 238.5,289.8 239.0,289.7 239.5,289.6 240.0,289.5 240.0,290.3 240.5,290.6 241.0,290.5 241.5,290.6 242.0,289.9 242.5,290.1 243.0,290.7 243.5,289.9 244.0,290.7 244.5,290.4 245.0,289.9 245.5,290.1 246.0,290.1 246.5,290.3 246.5,292.7 247.0,292.9 247.5,292.5 248.0,292.9 248.5,292.8 249.0,292.7 249.5,293.0 250.0,292.7 250.5,292.3 251.0,292.4 251.5,292.6 252.0,292.5 252.5,292.6 253.0,292.9 253.5,292.5 254.0,292.7 254.5,292.4 255.0,292.3 255.5,292.7 256.0,292.5 256.5,292.4 257.0,292.7 257.5,292.8 258.0,292.4 258.5,292.3 259.0,292.4 259.5,292.4 260.0,292.6 260.0,291.7 260.5,291.9 261.0,291.9 261.5,292.1 262.0,292.2 262.5,291.9 263.0,292.4 263.5,292.1 264.0,291.8 264.5,291.9 265.0,291.9 265.5,292.2 266.0,292.1 266.5,292.1 267.0,291.9 267.5,292.1 268.0,291.9 268.5,291.7 269.0,292.3 269.5,291.9 270.0,291.8 270.5,292.1 271.0,292.0 271.5,291.6 272.0,292.4 272.5,292.0 273.0,292.0 273.0,295.4 273.5,294.9 274.0,294.8 274.5,295.1 275.0,295.5 275.5,295.1 276.0,295.1 276.5,295.0 277.0,295.1 277.5,295.0 278.0,294.9 278.5,295.1 279.0,295.2 279.5,294.8 280.0,295.4 280.5,295.0 281.0,295.2 281.5,294.9 282.0,295.5 282.5,294.7 283.0,295.3 283.5,295.5 284.0,295.3 284.5,295.2 285.0,295.5 285.5,295.2 286.0,295.2 286.5,295.0 287.0,295.3 287.5,295.3 288.0,295.4 288.5,294.9 289.0,294.8 289.5,295.1 290.0,295.4 290.5,295.1 290.5,292.9 291.0,293.3 291.5,293.4 292.0,293.5 292.5,292.9 293.0,292.9 293.5,293.0 294.0,293.2 294.5,293.1 295.0,293.4 295.5,292.8 296.0,293.3 296.5,293.0 297.0,292.9 297.5,292.9 298.0,293.2 298.5,293.3 299.0,293.1 299.5,293.5 300.0,292.9 300.5,293.3 301.0,293.2 301.0,290.6 301.5,291.1 302.0,291.0 302.5,291.1 303.0,291.0 303.5,291.2 304.0,291.3 304.5,290.9 304.5,287.3 305.0,287.7 305.5,287.7 306.0,287.7 306.5,287.5 307.0,287.6 307.5,287.4 308.0,287.4 308.5,287.6 309.0,287.2 309.5,287.2 310.0,287.9 310.5,287.2 311.0,287.2 311.5,287.3 312.0,287.8 312.5,287.2 313.0,287.5 313.0,298.8"/>
<polygon fill="#00f" points="75.0,298.8 75.0,301.3 75.5,300.2 76.0,300.2 76.5,301.8 77.0,301.3 77.5,300.6 78.0,300.4 78.5,300.5 79.0,300.6 79.5,301.5 80.0,300.8 80.5,300.5 81.0,301.7 81.5,301.5 82.0,300.5 82.5,301.7 83.0,301.2 83.5,301.5 84.0,301.3 84.5,301.7 85.0,301.1 85.0,302.4 85.5,302.5 86.0,301.4 86.5,302.2 87.0,302.0 87.5,302.3 88.0,301.8 88.5,302.5 89.0,302.0 89.5,301.5 90.0,301.5 90.5,301.3 91.0,301.9 91.5,301.2 92.0,301.8 92.5,301.3 93.0,301.9 93.5,301.9 94.0,302.0 94.5,302.5 95.0,301.1 95.5,302.5 96.0,301.8 96.5,302.0 97.0,302.2 97.5,302.5 98.0,301.7 98.5,301.8 99.0,302.7 99.5,301.2 100.0,301.9 100.0,302.7 100.5,302.7 101.0,301.7 101.5,302.7 102.0,302.8 102.5,303.2 103.0,302.2 103.5,303.3 104.0,302.5 104.5,302.4 105.0,303.1 105.5,301.7 106.0,302.8 106.5,302.7 107.0,302.2 107.5,303.1 108.0,302.2 108.5,302.4 109.0,302.5 109.5,302.9 110.0,302.0 110.5,302.4 111.0,302.3 111.5,302.6 112.0,303.0 112.5,302.1 113.0,303.0 113.5,302.3 114.0,302.5 114.5,302.1 115.0,302.5 115.5,303.3 116.0,302.7 116.5,303.0 117.0,302.2 117.5,302.2 118.0,302.1 118.5,302.6 119.0,302.7 119.5,302.9 120.0,301.7 120.5,302.8 121.0,303.1 121.5,302.5 122.0,301.7 122.5,302.1 123.0,301.6 123.5,301.9 124.0,303.2 124.5,302.6 125.0,302.7 125.5,303.0 126.0,303.2 126.5,302.7 127.0,302.7 127.5,302.7 128.0,302.8 128.5,302.6 129.0,302.8 129.5,302.0 130.0,302.7 130.5,302.4 131.0,302.9 131.5,301.8 132.0,301.9 132.5,301.7 133.0,302.9 133.5,303.2 134.0,302.7 134.5,302.2 135.0,303.0 135.5,303.0 136.0,302.6 136.5,302.1 137.0,302.1 137.5,302.3 138.0,302.2 138.5,302.3 139.0,302.7 139.5,303.2 140.0,301.7 140.5,302.6 141.0,301.7 141.5,301.8 142.0,303.0 142.5,302.6 143.0,303.2 143.5,302.4 144.0,301.6 144.5,302.3 145.0,302.6 145.5,303.2 146.0,303.3 146.5,302.4 147.0,302.3 147.5,301.8 148.0,302.5 148.0,301.4 148.5,300.7 149.0,300.6 149.5,300.4 150.0,300.4 150.5,301.5 151.0,300.6 151.5,302.0 152.0,300.5 152.5,301.8 153.0,300.6 153.5,300.4 154.0,301.6 154.5,300.8 155.0,301.6 155.5,300.7 156.0,300.4 156.5,301.7 157.0,301.6 157.5,301.8 158.0,301.6 158.5,300.5 159.0,301.4 159.5,301.6 160.0,301.1 160.5,301.9 161.0,300.8 161.5,302.0 162.0,301.6 162.5,300.4 163.0,300.4 163.5,301.5 164.0,301.7 164.5,300.5 165.0,300.9 165.5,301.6 166.0,300.6 166.5,301.8 167.0,301.2 167.5,300.5 168.0,301.0 168.5,301.3 169.0,301.1 169.5,301.5 170.0,300.6 170.5,301.7 171.0,301.0 171.5,301.4 172.0,301.4 172.5,301.1 173.0,301.0 173.5,301.7 174.0,301.9 174.5,301.7 175.0,301.2 175.0,300.6 175.5,300.1 176.0,299.7 176.5,301.3 177.0,300.8 177.5,301.0 178.0,300.2 178.5,300.7 179.0,301.3 179.5,301.1 180.0,300.7 180.5,300.2 181.0,300.4 181.5,301.1 182.0,300.3 182.5,300.8 183.0,300.7 183.5,301.2 184.0,301.0 184.5,300.1 185.0,299.6 185.5,300.1 186.0,300.4 186.5,300.6 187.0,301.0 187.5,301.1 188.0,299.7 188.5,301.1 189.0,301.0 189.5,301.1 190.0,300.6 190.5,300.1 191.0,301.1 191.5,301.0 192.0,300.8 192.5,301.2 193.0,300.2 193.5,299.8 194.0,300.6 194.5,301.0 195.0,300.0 195.5,300.9 196.0,301.2 196.5,300.0 197.0,300.7 197.5,300.8 198.0,300.4 198.5,300.0 199.0,300.1 199.5,300.9 200.0,301.0 200.5,300.4 201.0,299.8 201.5,301.0 202.0,301.0 202.5,300.0 203.0,300.6 203.5,301.2 204.0,301.1 204.5,300.5 205.0,300.5 205.5,300.6 206.0,300.0 206.5,300.0 207.0,300.0 207.5,300.8 208.0,300.3 208.5,300.5 208.5,300.0 209.0,299.8 209.5,300.0 210.0,299.4 210.5,299.4 211.0,300.8 211.5,299.7 212.0,299.4 212.5,300.2 213.0,300.4 213.5,299.4 214.0,300.1 214.5,299.7 215.0,300.0 215.5,299.4 216.0,299.4 216.5,300.8 217.0,300.5 217.5,299.9 218.0,300.0 218.5,299.5 219.0,300.4 219.5,299.8 220.0,300.7 220.5,300.4 221.0,300.5 221.5,300.7 222.0,299.5 222.5,299.4 223.0,299.4 223.5,299.4 224.0,299.4 224.5,299.4 225.0,300.0 225.5,300.6 226.0,299.9 226.5,300.7 227.0,300.6 227.5,299.4 228.0,300.1 228.5,299.8 229.0,299.4 229.5,300.7 230.0,299.5 230.5,300.0 231.0,300.2 231.5,300.7 232.0,300.2 232.5,299.7 233.0,299.8 233.5,299.4 234.0,300.7 234.5,300.8 235.0,299.5 235.5,299.4 236.0,299.5 236.5,299.7 237.0,300.6 237.5,300.6 238.0,300.5 238.5,299.4 239.0,300.4 239.5,300.3 240.0,300.2 240.5,300.7 241.0,299.4 241.5,299.4 242.0,300.4 242.5,300.7 243.0,300.2 243.5,299.6 244.0,300.1 244.5,300.4 245.0,299.4 245.5,299.6 246.0,299.9 246.0,299.7 246.5,299.4 247.0,300.0 247.5,299.5 248.0,299.6 248.5,299.5 249.0,300.4 249.5,299.4 250.0,300.4 250.5,299.6 251.0,299.4 251.5,300.8 252.0,299.6 252.5,300.8 253.0,300.7 253.5,300.7 254.0,299.5 254.5,300.0 255.0,299.4 255.5,300.8 256.0,300.6 256.5,300.3 257.0,300.0 257.5,299.8 258.0,300.6 258.5,300.0 259.0,300.3 259.5,299.5 260.0,299.6 260.5,299.4 261.0,300.4 261.5,300.2 262.0,299.5 262.5,300.7 263.0,299.7 263.5,299.9 264.0,299.5 264.5,299.7 265.0,300.6 265.5,299.8 266.0,299.5 266.5,300.1 267.0,299.8 267.5,300.8 268.0,299.4 268.5,300.9 269.0,299.4 269.5,300.7 270.0,300.4 270.5,299.6 271.0,300.0 271.5,299.7 272.0,299.7 272.5,299.6 273.0,299.8 273.5,300.1 273.5,301.9 274.0,301.9 274.5,301.8 275.0,300.4 275.5,300.7 276.0,301.7 276.5,300.3 277.0,301.4 277.5,300.7 278.0,301.9 278.5,300.2 279.0,301.6 279.5,300.8 280.0,300.4 280.5,300.2 281.0,301.6 281.5,301.1 282.0,300.5 282.5,300.9 283.0,301.8 283.5,300.6 284.0,301.2 284.5,300.4 285.0,300.5 285.5,301.5 286.0,301.4 286.5,300.5 287.0,300.3 287.5,300.4 288.0,301.2 288.5,301.0 289.0,300.7 289.5,300.6 290.0,301.2 290.5,301.1 290.5,300.3 291.0,300.5 291.5,300.1 292.0,299.4 292.5,299.4 293.0,300.3 293.5,299.8 294.0,300.3 294.5,299.4 295.0,300.5 295.5,299.6 296.0,300.5 296.5,300.5 297.0,299.9 297.5,299.4 298.0,300.6 298.5,299.9 299.0,300.6 299.5,299.5 300.0,299.4 300.5,300.5 301.0,299.7 301.5,299.4 302.0,299.7 302.5,300.1 303.0,299.4 303.5,300.0 304.0,299.8 304.5,300.0 305.0,299.4 305.5,300.3 306.0,300.5 306.5,300.5 307.0,299.6 307.5,300.3 308.0,299.7 308.5,300.4 309.0,299.4 309.5,300.6 310.0,300.7 310.5,299.9 311.0,300.0 311.5,300.0 312.0,300.0 312.5,299.4 313.0,299.9 313.0,298.8"/>
<line x1="75" y1="329.5" x2="312.6" y2="329.5" stroke="#6868ee" stroke-width="0.8"/>
<line x1="75" y1="329.5" x2="95" y2="329.5" stroke="#555" stroke-width="0.8"/>
<line x1="74.5" y1="329.5" x2="74.5" y2="332.5" stroke="#555" stroke-width="0.7"/>
<text x="75.0" y="340.0" font-size="4.8" text-anchor="middle" fill="#333">0</text>
<line x1="94.5" y1="329.5" x2="94.5" y2="332.5" stroke="#555" stroke-width="0.7"/>
<text x="94.6" y="340.0" font-size="4.8" text-anchor="middle" fill="#333">20</text>
<line x1="114.5" y1="329.5" x2="114.5" y2="332.5" stroke="#555" stroke-width="0.7"/>
<text x="114.1" y="340.0" font-size="4.8" text-anchor="middle" fill="#333">40</text>
<line x1="133.5" y1="329.5" x2="133.5" y2="332.5" stroke="#555" stroke-width="0.7"/>
<text x="133.7" y="340.0" font-size="4.8" text-anchor="middle" fill="#333">60</text>
<line x1="153.5" y1="329.5" x2="153.5" y2="332.5" stroke="#555" stroke-width="0.7"/>
<text x="153.2" y="340.0" font-size="4.8" text-anchor="middle" fill="#333">80</text>
<line x1="172.5" y1="329.5" x2="172.5" y2="332.5" stroke="#555" stroke-width="0.7"/>
<text x="172.8" y="340.0" font-size="4.8" text-anchor="middle" fill="#333">100</text>
<line x1="192.5" y1="329.5" x2="192.5" y2="332.5" stroke="#555" stroke-width="0.7"/>
<text x="192.4" y="340.0" font-size="4.8" text-anchor="middle" fill="#333">120</text>
<line x1="211.5" y1="329.5" x2="211.5" y2="332.5" stroke="#555" stroke-width="0.7"/>
<text x="211.9" y="340.0" font-size="4.8" text-anchor="middle" fill="#333">140</text>
<line x1="231.5" y1="329.5" x2="231.5" y2="332.5" stroke="#555" stroke-width="0.7"/>
<text x="231.5" y="340.0" font-size="4.8" text-anchor="middle" fill="#333">160</text>
<line x1="251.5" y1="329.5" x2="251.5" y2="332.5" stroke="#555" stroke-width="0.7"/>
<text x="251.0" y="340.0" font-size="4.8" text-anchor="middle" fill="#333">180</text>
<line x1="270.5" y1="329.5" x2="270.5" y2="332.5" stroke="#555" stroke-width="0.7"/>
<text x="270.6" y="340.0" font-size="4.8" text-anchor="middle" fill="#333">200</text>
<line x1="290.5" y1="329.5" x2="290.5" y2="332.5" stroke="#555" stroke-width="0.7"/>
<text x="290.2" y="340.0" font-size="4.8" text-anchor="middle" fill="#333">220</text>
<line x1="309.5" y1="329.5" x2="309.5" y2="332.5" stroke="#555" stroke-width="0.7"/>
<text x="309.7" y="340.0" font-size="4.8" text-anchor="middle" fill="#333">240</text>
<text x="196.5" y="350.3" font-size="5.8" text-anchor="middle" fill="#222">chr 2 Genomic position (Mb)</text>
<text transform="translate(53.2,298.2) rotate(-90) scale(0.86,1)" font-size="7" text-anchor="middle" fill="#222">Frequency</text>
<rect x="422" y="35.6" width="259.4" height="64.9" fill="#eff5fd"/>
<line x1="419" y1="39.2" x2="421" y2="39.2" stroke="#888" stroke-width="0.4"/>
<text x="418.5" y="40.7" font-size="4.3" text-anchor="end" fill="#555">2</text>
<line x1="419" y1="53.800000000000004" x2="421" y2="53.800000000000004" stroke="#888" stroke-width="0.4"/>
<text x="418.5" y="55.300000000000004" font-size="4.3" text-anchor="end" fill="#555">1</text>
<line x1="419" y1="68.4" x2="421" y2="68.4" stroke="#888" stroke-width="0.4"/>
<text x="418.5" y="69.9" font-size="4.3" text-anchor="end" fill="#555">0</text>
<line x1="419" y1="83.0" x2="421" y2="83.0" stroke="#888" stroke-width="0.4"/>
<text x="418.5" y="84.5" font-size="4.3" text-anchor="end" fill="#555">-1</text>
<line x1="419" y1="97.60000000000001" x2="421" y2="97.60000000000001" stroke="#888" stroke-width="0.4"/>
<text x="418.5" y="99.10000000000001" font-size="4.3" text-anchor="end" fill="#555">-2</text>
<line x1="422" y1="68.4" x2="681.4" y2="68.4" stroke="#c8c8c8" stroke-width="0.6"/>
<text transform="translate(412.6,68.4) rotate(-90)" font-size="5.2" font-weight="bold" text-anchor="middle" fill="#222">Log ratio</text>
<line x1="433.6" y1="35.6" x2="433.6" y2="100.5" stroke="#fff" stroke-width="0.6" opacity="0.6"/>
<line x1="474.4" y1="35.6" x2="474.4" y2="100.5" stroke="#fff" stroke-width="0.6" opacity="0.6"/>
<line x1="505.6" y1="35.6" x2="505.6" y2="100.5" stroke="#fff" stroke-width="0.6" opacity="0.6"/>
<line x1="520" y1="35.6" x2="520" y2="100.5" stroke="#fff" stroke-width="0.6" opacity="0.6"/>
<line x1="559" y1="35.6" x2="559" y2="100.5" stroke="#fff" stroke-width="0.6" opacity="0.6"/>
<line x1="582.4" y1="35.6" x2="582.4" y2="100.5" stroke="#fff" stroke-width="0.6" opacity="0.6"/>
<line x1="604.6" y1="35.6" x2="604.6" y2="100.5" stroke="#fff" stroke-width="0.6" opacity="0.6"/>
<line x1="662" y1="35.6" x2="662" y2="100.5" stroke="#fff" stroke-width="0.6" opacity="0.6"/>
<line x1="669" y1="35.6" x2="669" y2="100.5" stroke="#fff" stroke-width="0.6" opacity="0.6"/>
<text x="443.6" y="106.4" font-size="4.3" text-anchor="middle" fill="#666">1</text>
<line x1="443.6" y1="100.5" x2="443.6" y2="102" stroke="#999" stroke-width="0.4"/>
<text x="463.6" y="106.4" font-size="4.3" text-anchor="middle" fill="#666">2</text>
<line x1="463.6" y1="100.5" x2="463.6" y2="102" stroke="#999" stroke-width="0.4"/>
<text x="482.4" y="106.4" font-size="4.3" text-anchor="middle" fill="#666">3</text>
<line x1="482.4" y1="100.5" x2="482.4" y2="102" stroke="#999" stroke-width="0.4"/>
<text x="497.6" y="106.4" font-size="4.3" text-anchor="middle" fill="#666">4</text>
<line x1="497.6" y1="100.5" x2="497.6" y2="102" stroke="#999" stroke-width="0.4"/>
<text x="513" y="106.4" font-size="4.3" text-anchor="middle" fill="#666">5</text>
<line x1="513" y1="100.5" x2="513" y2="102" stroke="#999" stroke-width="0.4"/>
<text x="526.8" y="106.4" font-size="4.3" text-anchor="middle" fill="#666">6</text>
<line x1="526.8" y1="100.5" x2="526.8" y2="102" stroke="#999" stroke-width="0.4"/>
<text x="541" y="106.4" font-size="4.3" text-anchor="middle" fill="#666">7</text>
<line x1="541" y1="100.5" x2="541" y2="102" stroke="#999" stroke-width="0.4"/>
<text x="553.6" y="106.4" font-size="4.3" text-anchor="middle" fill="#666">8</text>
<line x1="553.6" y1="100.5" x2="553.6" y2="102" stroke="#999" stroke-width="0.4"/>
<text x="565" y="106.4" font-size="4.3" text-anchor="middle" fill="#666">9</text>
<line x1="565" y1="100.5" x2="565" y2="102" stroke="#999" stroke-width="0.4"/>
<text x="576.5" y="106.4" font-size="4.3" text-anchor="middle" fill="#666">10</text>
<line x1="576.5" y1="100.5" x2="576.5" y2="102" stroke="#999" stroke-width="0.4"/>
<text x="587.6" y="106.4" font-size="4.3" text-anchor="middle" fill="#666">11</text>
<line x1="587.6" y1="100.5" x2="587.6" y2="102" stroke="#999" stroke-width="0.4"/>
<text x="599.4" y="106.4" font-size="4.3" text-anchor="middle" fill="#666">12</text>
<line x1="599.4" y1="100.5" x2="599.4" y2="102" stroke="#999" stroke-width="0.4"/>
<text x="609" y="106.4" font-size="4.3" text-anchor="middle" fill="#666">13</text>
<line x1="609" y1="100.5" x2="609" y2="102" stroke="#999" stroke-width="0.4"/>
<text x="618" y="106.4" font-size="4.3" text-anchor="middle" fill="#666">14</text>
<line x1="618" y1="100.5" x2="618" y2="102" stroke="#999" stroke-width="0.4"/>
<text x="626.7" y="106.4" font-size="4.3" text-anchor="middle" fill="#666">15</text>
<line x1="626.7" y1="100.5" x2="626.7" y2="102" stroke="#999" stroke-width="0.4"/>
<text x="634" y="106.4" font-size="4.3" text-anchor="middle" fill="#666">16</text>
<line x1="634" y1="100.5" x2="634" y2="102" stroke="#999" stroke-width="0.4"/>
<text x="641" y="106.4" font-size="4.3" text-anchor="middle" fill="#666">17</text>
<line x1="641" y1="100.5" x2="641" y2="102" stroke="#999" stroke-width="0.4"/>
<text x="648" y="106.4" font-size="4.3" text-anchor="middle" fill="#666">18</text>
<line x1="648" y1="100.5" x2="648" y2="102" stroke="#999" stroke-width="0.4"/>
<text x="653" y="106.4" font-size="4.3" text-anchor="middle" fill="#666">19</text>
<line x1="653" y1="100.5" x2="653" y2="102" stroke="#999" stroke-width="0.4"/>
<text x="657.5" y="106.4" font-size="4.3" text-anchor="middle" fill="#666">20</text>
<line x1="657.5" y1="100.5" x2="657.5" y2="102" stroke="#999" stroke-width="0.4"/>
<text x="661.5" y="106.4" font-size="4.3" text-anchor="middle" fill="#666">21</text>
<line x1="661.5" y1="100.5" x2="661.5" y2="102" stroke="#999" stroke-width="0.4"/>
<text x="666" y="106.4" font-size="4.3" text-anchor="middle" fill="#666">22</text>
<line x1="666" y1="100.5" x2="666" y2="102" stroke="#999" stroke-width="0.4"/>
<text x="551" y="112.6" font-size="5.3" font-weight="bold" text-anchor="middle" fill="#222">Chromosome</text>
<circle cx="444.0" cy="65.6" r="0.5" fill="#f44" opacity="0.75"/>
<circle cx="445.0" cy="64.3" r="0.5" fill="#f44" opacity="0.75"/>
<circle cx="446.0" cy="64.0" r="0.5" fill="#f44" opacity="0.75"/>
<circle cx="447.0" cy="63.5" r="0.5" fill="#f44" opacity="0.75"/>
<circle cx="447.0" cy="63.2" r="0.5" fill="#f44" opacity="0.75"/>
<circle cx="448.2" cy="63.8" r="0.5" fill="#f44" opacity="0.75"/>
<circle cx="449.4" cy="62.7" r="0.5" fill="#f44" opacity="0.75"/>
<circle cx="450.6" cy="62.7" r="0.5" fill="#f44" opacity="0.75"/>
<circle cx="451.8" cy="63.3" r="0.5" fill="#f44" opacity="0.75"/>
<circle cx="453.0" cy="62.6" r="0.5" fill="#f44" opacity="0.75"/>
<circle cx="449" cy="56.4" r="0.6" fill="#f44"/>
<circle cx="463.0" cy="64.4" r="0.5" fill="#f44" opacity="0.75"/>
<circle cx="464.4" cy="65.3" r="0.5" fill="#f44" opacity="0.75"/>
<circle cx="465.9" cy="65.4" r="0.5" fill="#f44" opacity="0.75"/>
<circle cx="467.3" cy="65.5" r="0.5" fill="#f44" opacity="0.75"/>
<circle cx="468.7" cy="65.8" r="0.5" fill="#f44" opacity="0.75"/>
<circle cx="470.1" cy="65.2" r="0.5" fill="#f44" opacity="0.75"/>
<circle cx="471.6" cy="66.3" r="0.5" fill="#f44" opacity="0.75"/>
<circle cx="473.0" cy="66.3" r="0.5" fill="#f44" opacity="0.75"/>
<circle cx="490.0" cy="62.5" r="0.5" fill="#f44" opacity="0.75"/>
<circle cx="491.4" cy="62.5" r="0.5" fill="#f44" opacity="0.75"/>
<circle cx="492.7" cy="62.8" r="0.5" fill="#f44" opacity="0.75"/>
<circle cx="494.1" cy="62.7" r="0.5" fill="#f44" opacity="0.75"/>
<circle cx="495.5" cy="62.4" r="0.5" fill="#f44" opacity="0.75"/>
<circle cx="496.8" cy="62.1" r="0.5" fill="#f44" opacity="0.75"/>
<circle cx="498.2" cy="62.3" r="0.5" fill="#f44" opacity="0.75"/>
<circle cx="499.5" cy="61.9" r="0.5" fill="#f44" opacity="0.75"/>
<circle cx="500.9" cy="62.4" r="0.5" fill="#f44" opacity="0.75"/>
<circle cx="502.3" cy="62.6" r="0.5" fill="#f44" opacity="0.75"/>
<circle cx="503.6" cy="61.7" r="0.5" fill="#f44" opacity="0.75"/>
<circle cx="505.0" cy="62.1" r="0.5" fill="#f44" opacity="0.75"/>
<circle cx="492.4" cy="53.6" r="0.6" fill="#f44"/>
<circle cx="520.0" cy="63.3" r="0.5" fill="#f44" opacity="0.75"/>
<circle cx="521.4" cy="62.7" r="0.5" fill="#f44" opacity="0.75"/>
<circle cx="522.9" cy="63.7" r="0.5" fill="#f44" opacity="0.75"/>
<circle cx="524.3" cy="64.0" r="0.5" fill="#f44" opacity="0.75"/>
<circle cx="525.7" cy="63.4" r="0.5" fill="#f44" opacity="0.75"/>
<circle cx="527.1" cy="63.6" r="0.5" fill="#f44" opacity="0.75"/>
<circle cx="528.6" cy="64.3" r="0.5" fill="#f44" opacity="0.75"/>
<circle cx="530.0" cy="64.0" r="0.5" fill="#f44" opacity="0.75"/>
<circle cx="530.0" cy="65.5" r="0.5" fill="#f44" opacity="0.75"/>
<circle cx="531.2" cy="66.0" r="0.5" fill="#f44" opacity="0.75"/>
<circle cx="532.5" cy="65.6" r="0.5" fill="#f44" opacity="0.75"/>
<circle cx="533.8" cy="65.0" r="0.5" fill="#f44" opacity="0.75"/>
<circle cx="535.0" cy="64.7" r="0.5" fill="#f44" opacity="0.75"/>
<circle cx="535.0" cy="62.8" r="0.5" fill="#f44" opacity="0.75"/>
<circle cx="536.4" cy="62.9" r="0.5" fill="#f44" opacity="0.75"/>
<circle cx="537.8" cy="63.5" r="0.5" fill="#f44" opacity="0.75"/>
<circle cx="539.2" cy="63.3" r="0.5" fill="#f44" opacity="0.75"/>
<circle cx="540.6" cy="63.4" r="0.5" fill="#f44" opacity="0.75"/>
<circle cx="542.1" cy="63.2" r="0.5" fill="#f44" opacity="0.75"/>
<circle cx="543.5" cy="63.2" r="0.5" fill="#f44" opacity="0.75"/>
<circle cx="544.9" cy="62.3" r="0.5" fill="#f44" opacity="0.75"/>
<circle cx="546.3" cy="62.8" r="0.5" fill="#f44" opacity="0.75"/>
<circle cx="547.7" cy="63.3" r="0.5" fill="#f44" opacity="0.75"/>
<circle cx="549.1" cy="63.2" r="0.5" fill="#f44" opacity="0.75"/>
<circle cx="550.5" cy="62.4" r="0.5" fill="#f44" opacity="0.75"/>
<circle cx="551.9" cy="62.6" r="0.5" fill="#f44" opacity="0.75"/>
<circle cx="553.4" cy="62.8" r="0.5" fill="#f44" opacity="0.75"/>
<circle cx="554.8" cy="62.4" r="0.5" fill="#f44" opacity="0.75"/>
<circle cx="556.2" cy="62.6" r="0.5" fill="#f44" opacity="0.75"/>
<circle cx="557.6" cy="62.0" r="0.5" fill="#f44" opacity="0.75"/>
<circle cx="559.0" cy="62.4" r="0.5" fill="#f44" opacity="0.75"/>
<circle cx="543" cy="52.4" r="0.6" fill="#f44"/>
<circle cx="606.0" cy="66.0" r="0.5" fill="#f44" opacity="0.75"/>
<circle cx="607.6" cy="65.0" r="0.5" fill="#f44" opacity="0.75"/>
<circle cx="609.2" cy="64.8" r="0.5" fill="#f44" opacity="0.75"/>
<circle cx="610.8" cy="65.4" r="0.5" fill="#f44" opacity="0.75"/>
<circle cx="612.4" cy="64.7" r="0.5" fill="#f44" opacity="0.75"/>
<circle cx="614.0" cy="64.5" r="0.5" fill="#f44" opacity="0.75"/>
<circle cx="624.0" cy="65.6" r="0.5" fill="#f44" opacity="0.75"/>
<circle cx="626.0" cy="65.8" r="0.5" fill="#f44" opacity="0.75"/>
<circle cx="629.0" cy="65.9" r="0.5" fill="#f44" opacity="0.75"/>
<circle cx="631.0" cy="65.9" r="0.5" fill="#f44" opacity="0.75"/>
<circle cx="643.0" cy="64.4" r="0.5" fill="#f44" opacity="0.75"/>
<circle cx="644.5" cy="65.2" r="0.5" fill="#f44" opacity="0.75"/>
<circle cx="656.0" cy="65.3" r="0.5" fill="#f44" opacity="0.75"/>
<circle cx="657.7" cy="66.0" r="0.5" fill="#f44" opacity="0.75"/>
<circle cx="659.3" cy="65.7" r="0.5" fill="#f44" opacity="0.75"/>
<circle cx="661.0" cy="66.3" r="0.5" fill="#f44" opacity="0.75"/>
<circle cx="667.5" cy="62.9" r="0.5" fill="#f44" opacity="0.75"/>
<circle cx="433.6" cy="72.1" r="0.5" fill="#55f" opacity="0.75"/>
<circle cx="434.7" cy="72.0" r="0.5" fill="#55f" opacity="0.75"/>
<circle cx="435.8" cy="72.6" r="0.5" fill="#55f" opacity="0.75"/>
<circle cx="436.9" cy="72.8" r="0.5" fill="#55f" opacity="0.75"/>
<circle cx="438.0" cy="73.7" r="0.5" fill="#55f" opacity="0.75"/>
<circle cx="442.0" cy="71.7" r="0.5" fill="#55f" opacity="0.75"/>
<circle cx="456.0" cy="71.8" r="0.5" fill="#55f" opacity="0.75"/>
<circle cx="460.0" cy="72.2" r="0.5" fill="#55f" opacity="0.75"/>
<circle cx="475.0" cy="70.1" r="0.5" fill="#55f" opacity="0.75"/>
<circle cx="476.5" cy="70.7" r="0.5" fill="#55f" opacity="0.75"/>
<circle cx="478.0" cy="71.1" r="0.5" fill="#55f" opacity="0.75"/>
<circle cx="518.0" cy="71.0" r="0.5" fill="#55f" opacity="0.75"/>
<circle cx="560.0" cy="70.7" r="0.5" fill="#55f" opacity="0.75"/>
<circle cx="561.4" cy="71.0" r="0.5" fill="#55f" opacity="0.75"/>
<circle cx="562.9" cy="71.0" r="0.5" fill="#55f" opacity="0.75"/>
<circle cx="564.3" cy="70.6" r="0.5" fill="#55f" opacity="0.75"/>
<circle cx="565.7" cy="70.5" r="0.5" fill="#55f" opacity="0.75"/>
<circle cx="567.1" cy="70.6" r="0.5" fill="#55f" opacity="0.75"/>
<circle cx="568.6" cy="70.8" r="0.5" fill="#55f" opacity="0.75"/>
<circle cx="570.0" cy="70.9" r="0.5" fill="#55f" opacity="0.75"/>
<circle cx="573.0" cy="70.7" r="0.5" fill="#55f" opacity="0.75"/>
<circle cx="574.4" cy="70.9" r="0.5" fill="#55f" opacity="0.75"/>
<circle cx="575.8" cy="71.0" r="0.5" fill="#55f" opacity="0.75"/>
<circle cx="577.2" cy="71.8" r="0.5" fill="#55f" opacity="0.75"/>
<circle cx="578.6" cy="72.4" r="0.5" fill="#55f" opacity="0.75"/>
<circle cx="580.0" cy="72.3" r="0.5" fill="#55f" opacity="0.75"/>
<circle cx="583.0" cy="71.1" r="0.5" fill="#55f" opacity="0.75"/>
<circle cx="584.3" cy="72.2" r="0.5" fill="#55f" opacity="0.75"/>
<circle cx="585.7" cy="72.6" r="0.5" fill="#55f" opacity="0.75"/>
<circle cx="587.0" cy="74.3" r="0.5" fill="#55f" opacity="0.75"/>
<circle cx="587.0" cy="75.0" r="0.5" fill="#55f" opacity="0.75"/>
<circle cx="589.0" cy="76.6" r="0.5" fill="#55f" opacity="0.75"/>
<circle cx="591.0" cy="78.1" r="0.5" fill="#55f" opacity="0.75"/>
<circle cx="598.0" cy="72.0" r="0.5" fill="#55f" opacity="0.75"/>
<circle cx="599.2" cy="71.5" r="0.5" fill="#55f" opacity="0.75"/>
<circle cx="600.5" cy="71.2" r="0.5" fill="#55f" opacity="0.75"/>
<circle cx="601.8" cy="70.9" r="0.5" fill="#55f" opacity="0.75"/>
<circle cx="603.0" cy="71.0" r="0.5" fill="#55f" opacity="0.75"/>
<circle cx="616.0" cy="71.3" r="0.5" fill="#55f" opacity="0.75"/>
<circle cx="617.7" cy="71.4" r="0.5" fill="#55f" opacity="0.75"/>
<circle cx="619.3" cy="70.5" r="0.5" fill="#55f" opacity="0.75"/>
<circle cx="621.0" cy="70.8" r="0.5" fill="#55f" opacity="0.75"/>
<circle cx="631.0" cy="73.0" r="0.5" fill="#55f" opacity="0.75"/>
<circle cx="632.2" cy="72.0" r="0.5" fill="#55f" opacity="0.75"/>
<circle cx="633.5" cy="72.2" r="0.5" fill="#55f" opacity="0.75"/>
<circle cx="634.8" cy="71.8" r="0.5" fill="#55f" opacity="0.75"/>
<circle cx="636.0" cy="71.3" r="0.5" fill="#55f" opacity="0.75"/>
<circle cx="653.0" cy="71.2" r="0.5" fill="#55f" opacity="0.75"/>
<rect x="422" y="128" width="259.4" height="63.599999999999994" fill="#eff5fd"/>
<line x1="419" y1="130.8" x2="421" y2="130.8" stroke="#888" stroke-width="0.4"/>
<text x="418.5" y="132.3" font-size="4.3" text-anchor="end" fill="#555">2</text>
<line x1="419" y1="145.4" x2="421" y2="145.4" stroke="#888" stroke-width="0.4"/>
<text x="418.5" y="146.9" font-size="4.3" text-anchor="end" fill="#555">1</text>
<line x1="419" y1="160.0" x2="421" y2="160.0" stroke="#888" stroke-width="0.4"/>
<text x="418.5" y="161.5" font-size="4.3" text-anchor="end" fill="#555">0</text>
<line x1="419" y1="174.6" x2="421" y2="174.6" stroke="#888" stroke-width="0.4"/>
<text x="418.5" y="176.1" font-size="4.3" text-anchor="end" fill="#555">-1</text>
<line x1="419" y1="189.2" x2="421" y2="189.2" stroke="#888" stroke-width="0.4"/>
<text x="418.5" y="190.7" font-size="4.3" text-anchor="end" fill="#555">-2</text>
<line x1="422" y1="160" x2="681.4" y2="160" stroke="#c8c8c8" stroke-width="0.6"/>
<text transform="translate(412.6,160) rotate(-90)" font-size="5.2" font-weight="bold" text-anchor="middle" fill="#222">Log ratio &amp; Delta beta</text>
<line x1="434.00" y1="160" x2="434.00" y2="153.4" stroke="#22ea22" stroke-width="0.5"/>
<line x1="434.00" y1="160.3" x2="434.00" y2="170.5" stroke="#e070e0" stroke-width="0.5"/>
<line x1="434.42" y1="160.3" x2="434.42" y2="170.5" stroke="#e070e0" stroke-width="0.5"/>
<line x1="434.84" y1="160" x2="434.84" y2="150.6" stroke="#22ea22" stroke-width="0.5"/>
<line x1="434.84" y1="160.3" x2="434.84" y2="170.4" stroke="#e070e0" stroke-width="0.5"/>
<line x1="435.26" y1="160" x2="435.26" y2="155.7" stroke="#22ea22" stroke-width="0.5"/>
<line x1="435.26" y1="160.3" x2="435.26" y2="170.4" stroke="#e070e0" stroke-width="0.5"/>
<line x1="435.68" y1="160" x2="435.68" y2="150.1" stroke="#22ea22" stroke-width="0.5"/>
<line x1="435.68" y1="160.3" x2="435.68" y2="168.1" stroke="#e070e0" stroke-width="0.5"/>
<line x1="436.10" y1="160" x2="436.10" y2="153.9" stroke="#22ea22" stroke-width="0.5"/>
<line x1="436.10" y1="160.3" x2="436.10" y2="167.1" stroke="#e070e0" stroke-width="0.5"/>
<line x1="436.52" y1="160" x2="436.52" y2="153.2" stroke="#22ea22" stroke-width="0.5"/>
<line x1="436.52" y1="160.3" x2="436.52" y2="166.6" stroke="#e070e0" stroke-width="0.5"/>
<line x1="436.94" y1="160" x2="436.94" y2="155.1" stroke="#22ea22" stroke-width="0.5"/>
<line x1="436.94" y1="160.3" x2="436.94" y2="165.7" stroke="#e070e0" stroke-width="0.5"/>
<line x1="437.36" y1="160" x2="437.36" y2="153.3" stroke="#22ea22" stroke-width="0.5"/>
<line x1="437.36" y1="160.3" x2="437.36" y2="168.9" stroke="#e070e0" stroke-width="0.5"/>
<line x1="437.78" y1="160.3" x2="437.78" y2="169.4" stroke="#e070e0" stroke-width="0.5"/>
<line x1="438.20" y1="160" x2="438.20" y2="154.5" stroke="#22ea22" stroke-width="0.5"/>
<line x1="438.20" y1="160.3" x2="438.20" y2="169.6" stroke="#e070e0" stroke-width="0.5"/>
<line x1="438.62" y1="160" x2="438.62" y2="150.7" stroke="#22ea22" stroke-width="0.5"/>
<line x1="438.62" y1="160.3" x2="438.62" y2="170.0" stroke="#e070e0" stroke-width="0.5"/>
<line x1="439.04" y1="160" x2="439.04" y2="151.4" stroke="#22ea22" stroke-width="0.5"/>
<line x1="439.04" y1="160.3" x2="439.04" y2="169.9" stroke="#e070e0" stroke-width="0.5"/>
<line x1="439.46" y1="160" x2="439.46" y2="154.3" stroke="#22ea22" stroke-width="0.5"/>
<line x1="439.46" y1="160.3" x2="439.46" y2="169.3" stroke="#e070e0" stroke-width="0.5"/>
<line x1="439.88" y1="160" x2="439.88" y2="149.8" stroke="#22ea22" stroke-width="0.5"/>
<line x1="439.88" y1="160.3" x2="439.88" y2="168.4" stroke="#e070e0" stroke-width="0.5"/>
<line x1="440.30" y1="160" x2="440.30" y2="149.3" stroke="#22ea22" stroke-width="0.5"/>
<line x1="440.30" y1="160.3" x2="440.30" y2="169.9" stroke="#e070e0" stroke-width="0.5"/>
<line x1="440.72" y1="160" x2="440.72" y2="154.1" stroke="#22ea22" stroke-width="0.5"/>
<line x1="441.14" y1="160.3" x2="441.14" y2="164.0" stroke="#e480e4" stroke-width="0.5"/>
<line x1="441.56" y1="160" x2="441.56" y2="149.2" stroke="#8af08a" stroke-width="0.5"/>
<line x1="441.56" y1="160.3" x2="441.56" y2="166.8" stroke="#e480e4" stroke-width="0.5"/>
<line x1="441.98" y1="160.3" x2="441.98" y2="166.6" stroke="#e480e4" stroke-width="0.5"/>
<line x1="442.40" y1="160.3" x2="442.40" y2="166.7" stroke="#e480e4" stroke-width="0.5"/>
<line x1="442.82" y1="160" x2="442.82" y2="150.3" stroke="#22ea22" stroke-width="0.5"/>
<line x1="442.82" y1="160.3" x2="442.82" y2="166.3" stroke="#e480e4" stroke-width="0.5"/>
<line x1="443.24" y1="160" x2="443.24" y2="155.5" stroke="#22ea22" stroke-width="0.5"/>
<line x1="443.24" y1="160.3" x2="443.24" y2="166.7" stroke="#e480e4" stroke-width="0.5"/>
<line x1="443.66" y1="160" x2="443.66" y2="150.2" stroke="#22ea22" stroke-width="0.5"/>
<line x1="443.66" y1="160.3" x2="443.66" y2="166.5" stroke="#e480e4" stroke-width="0.5"/>
<line x1="444.50" y1="160.3" x2="444.50" y2="167.1" stroke="#e480e4" stroke-width="0.5"/>
<line x1="445.34" y1="160" x2="445.34" y2="151.2" stroke="#22ea22" stroke-width="0.5"/>
<line x1="445.76" y1="160" x2="445.76" y2="149.9" stroke="#22ea22" stroke-width="0.5"/>
<line x1="446.18" y1="160" x2="446.18" y2="151.0" stroke="#22ea22" stroke-width="0.5"/>
<line x1="446.18" y1="160.3" x2="446.18" y2="164.2" stroke="#e480e4" stroke-width="0.5"/>
<line x1="446.60" y1="160" x2="446.60" y2="153.9" stroke="#22ea22" stroke-width="0.5"/>
<line x1="447.02" y1="160.3" x2="447.02" y2="167.9" stroke="#e480e4" stroke-width="0.5"/>
<line x1="447.44" y1="160" x2="447.44" y2="151.0" stroke="#22ea22" stroke-width="0.5"/>
<line x1="447.44" y1="160.3" x2="447.44" y2="167.9" stroke="#e480e4" stroke-width="0.5"/>
<line x1="447.86" y1="160" x2="447.86" y2="152.0" stroke="#22ea22" stroke-width="0.5"/>
<line x1="447.86" y1="160.3" x2="447.86" y2="167.4" stroke="#e480e4" stroke-width="0.5"/>
<line x1="448.28" y1="160.3" x2="448.28" y2="168.0" stroke="#e480e4" stroke-width="0.5"/>
<line x1="448.70" y1="160" x2="448.70" y2="153.6" stroke="#22ea22" stroke-width="0.5"/>
<line x1="448.70" y1="160.3" x2="448.70" y2="165.7" stroke="#e480e4" stroke-width="0.5"/>
<line x1="449.12" y1="160" x2="449.12" y2="149.8" stroke="#22ea22" stroke-width="0.5"/>
<line x1="449.54" y1="160" x2="449.54" y2="152.3" stroke="#22ea22" stroke-width="0.5"/>
<line x1="449.54" y1="160.3" x2="449.54" y2="166.8" stroke="#e480e4" stroke-width="0.5"/>
<line x1="449.96" y1="160" x2="449.96" y2="149.7" stroke="#22ea22" stroke-width="0.5"/>
<line x1="449.96" y1="160.3" x2="449.96" y2="166.7" stroke="#e480e4" stroke-width="0.5"/>
<line x1="450.38" y1="160.3" x2="450.38" y2="167.2" stroke="#e480e4" stroke-width="0.5"/>
<line x1="450.80" y1="160" x2="450.80" y2="149.4" stroke="#22ea22" stroke-width="0.5"/>
<line x1="450.80" y1="160.3" x2="450.80" y2="168.0" stroke="#e480e4" stroke-width="0.5"/>
<line x1="451.22" y1="160" x2="451.22" y2="149.4" stroke="#8af08a" stroke-width="0.5"/>
<line x1="451.22" y1="160.3" x2="451.22" y2="164.8" stroke="#e480e4" stroke-width="0.5"/>
<line x1="452.06" y1="160" x2="452.06" y2="149.2" stroke="#22ea22" stroke-width="0.5"/>
<line x1="452.06" y1="160.3" x2="452.06" y2="167.5" stroke="#e480e4" stroke-width="0.5"/>
<line x1="452.48" y1="160" x2="452.48" y2="150.1" stroke="#22ea22" stroke-width="0.5"/>
<line x1="452.48" y1="160.3" x2="452.48" y2="167.7" stroke="#e480e4" stroke-width="0.5"/>
<line x1="452.90" y1="160" x2="452.90" y2="154.9" stroke="#22ea22" stroke-width="0.5"/>
<line x1="452.90" y1="160.3" x2="452.90" y2="167.4" stroke="#e480e4" stroke-width="0.5"/>
<line x1="453.32" y1="160" x2="453.32" y2="150.2" stroke="#22ea22" stroke-width="0.5"/>
<line x1="453.32" y1="160.3" x2="453.32" y2="164.2" stroke="#e480e4" stroke-width="0.5"/>
<line x1="453.74" y1="160" x2="453.74" y2="155.7" stroke="#22ea22" stroke-width="0.5"/>
<line x1="453.74" y1="160.3" x2="453.74" y2="166.2" stroke="#e480e4" stroke-width="0.5"/>
<line x1="454.16" y1="160" x2="454.16" y2="149.2" stroke="#22ea22" stroke-width="0.5"/>
<line x1="454.58" y1="160.3" x2="454.58" y2="164.1" stroke="#e480e4" stroke-width="0.5"/>
<line x1="455.00" y1="160" x2="455.00" y2="149.8" stroke="#22ea22" stroke-width="0.5"/>
<line x1="455.00" y1="160.3" x2="455.00" y2="163.6" stroke="#e480e4" stroke-width="0.5"/>
<line x1="455.42" y1="160" x2="455.42" y2="155.5" stroke="#22ea22" stroke-width="0.5"/>
<line x1="455.42" y1="160.3" x2="455.42" y2="167.3" stroke="#e480e4" stroke-width="0.5"/>
<line x1="455.84" y1="160" x2="455.84" y2="149.5" stroke="#22ea22" stroke-width="0.5"/>
<line x1="455.84" y1="160.3" x2="455.84" y2="164.3" stroke="#e480e4" stroke-width="0.5"/>
<line x1="456.26" y1="160" x2="456.26" y2="153.6" stroke="#22ea22" stroke-width="0.5"/>
<line x1="456.26" y1="160.3" x2="456.26" y2="167.9" stroke="#e480e4" stroke-width="0.5"/>
<line x1="456.68" y1="160" x2="456.68" y2="149.4" stroke="#22ea22" stroke-width="0.5"/>
<line x1="457.10" y1="160" x2="457.10" y2="151.4" stroke="#22ea22" stroke-width="0.5"/>
<line x1="457.10" y1="160.3" x2="457.10" y2="166.7" stroke="#e480e4" stroke-width="0.5"/>
<line x1="457.52" y1="160" x2="457.52" y2="150.3" stroke="#22ea22" stroke-width="0.5"/>
<line x1="457.52" y1="160.3" x2="457.52" y2="168.0" stroke="#e480e4" stroke-width="0.5"/>
<line x1="457.94" y1="160" x2="457.94" y2="150.1" stroke="#22ea22" stroke-width="0.5"/>
<line x1="457.94" y1="160.3" x2="457.94" y2="167.9" stroke="#e480e4" stroke-width="0.5"/>
<line x1="458.36" y1="160" x2="458.36" y2="149.6" stroke="#22ea22" stroke-width="0.5"/>
<line x1="458.36" y1="160.3" x2="458.36" y2="165.9" stroke="#e480e4" stroke-width="0.5"/>
<line x1="458.78" y1="160" x2="458.78" y2="149.4" stroke="#22ea22" stroke-width="0.5"/>
<line x1="458.78" y1="160.3" x2="458.78" y2="168.0" stroke="#e480e4" stroke-width="0.5"/>
<line x1="459.20" y1="160" x2="459.20" y2="154.1" stroke="#22ea22" stroke-width="0.5"/>
<line x1="459.20" y1="160.3" x2="459.20" y2="167.1" stroke="#e480e4" stroke-width="0.5"/>
<line x1="459.62" y1="160" x2="459.62" y2="153.7" stroke="#22ea22" stroke-width="0.5"/>
<line x1="459.62" y1="160.3" x2="459.62" y2="167.4" stroke="#e480e4" stroke-width="0.5"/>
<line x1="460.04" y1="160" x2="460.04" y2="150.2" stroke="#22ea22" stroke-width="0.5"/>
<line x1="460.46" y1="160" x2="460.46" y2="155.5" stroke="#22ea22" stroke-width="0.5"/>
<line x1="460.46" y1="160.3" x2="460.46" y2="167.8" stroke="#e480e4" stroke-width="0.5"/>
<line x1="460.88" y1="160" x2="460.88" y2="149.3" stroke="#22ea22" stroke-width="0.5"/>
<line x1="460.88" y1="160.3" x2="460.88" y2="167.7" stroke="#e480e4" stroke-width="0.5"/>
<line x1="461.30" y1="160.3" x2="461.30" y2="167.4" stroke="#e480e4" stroke-width="0.5"/>
<line x1="461.72" y1="160.3" x2="461.72" y2="167.8" stroke="#e480e4" stroke-width="0.5"/>
<line x1="462.14" y1="160.3" x2="462.14" y2="166.8" stroke="#e480e4" stroke-width="0.5"/>
<line x1="462.56" y1="160.3" x2="462.56" y2="165.2" stroke="#e480e4" stroke-width="0.5"/>
<line x1="462.98" y1="160.3" x2="462.98" y2="166.5" stroke="#e480e4" stroke-width="0.5"/>
<line x1="463.40" y1="160" x2="463.40" y2="150.3" stroke="#22ea22" stroke-width="0.5"/>
<line x1="463.40" y1="160.3" x2="463.40" y2="167.9" stroke="#e480e4" stroke-width="0.5"/>
<line x1="463.82" y1="160.3" x2="463.82" y2="165.9" stroke="#e480e4" stroke-width="0.5"/>
<line x1="464.24" y1="160" x2="464.24" y2="151.4" stroke="#22ea22" stroke-width="0.5"/>
<line x1="464.24" y1="160.3" x2="464.24" y2="166.8" stroke="#e480e4" stroke-width="0.5"/>
<line x1="464.66" y1="160" x2="464.66" y2="149.2" stroke="#22ea22" stroke-width="0.5"/>
<line x1="464.66" y1="160.3" x2="464.66" y2="167.8" stroke="#e480e4" stroke-width="0.5"/>
<line x1="465.08" y1="160" x2="465.08" y2="152.8" stroke="#22ea22" stroke-width="0.5"/>
<line x1="465.08" y1="160.3" x2="465.08" y2="167.2" stroke="#e480e4" stroke-width="0.5"/>
<line x1="465.50" y1="160.3" x2="465.50" y2="164.3" stroke="#e480e4" stroke-width="0.5"/>
<line x1="465.92" y1="160.3" x2="465.92" y2="167.7" stroke="#e480e4" stroke-width="0.5"/>
<line x1="466.34" y1="160" x2="466.34" y2="152.4" stroke="#8af08a" stroke-width="0.5"/>
<line x1="466.34" y1="160.3" x2="466.34" y2="167.4" stroke="#e480e4" stroke-width="0.5"/>
<line x1="466.76" y1="160.3" x2="466.76" y2="165.7" stroke="#e480e4" stroke-width="0.5"/>
<line x1="467.18" y1="160" x2="467.18" y2="154.2" stroke="#22ea22" stroke-width="0.5"/>
<line x1="467.18" y1="160.3" x2="467.18" y2="166.1" stroke="#e480e4" stroke-width="0.5"/>
<line x1="467.60" y1="160" x2="467.60" y2="149.3" stroke="#22ea22" stroke-width="0.5"/>
<line x1="468.02" y1="160" x2="468.02" y2="152.8" stroke="#22ea22" stroke-width="0.5"/>
<line x1="468.02" y1="160.3" x2="468.02" y2="168.0" stroke="#e480e4" stroke-width="0.5"/>
<line x1="468.44" y1="160" x2="468.44" y2="149.5" stroke="#22ea22" stroke-width="0.5"/>
<line x1="468.44" y1="160.3" x2="468.44" y2="167.3" stroke="#e480e4" stroke-width="0.5"/>
<line x1="468.86" y1="160" x2="468.86" y2="149.9" stroke="#22ea22" stroke-width="0.5"/>
<line x1="468.86" y1="160.3" x2="468.86" y2="167.9" stroke="#e480e4" stroke-width="0.5"/>
<line x1="469.28" y1="160" x2="469.28" y2="151.5" stroke="#22ea22" stroke-width="0.5"/>
<line x1="469.28" y1="160.3" x2="469.28" y2="167.7" stroke="#e480e4" stroke-width="0.5"/>
<line x1="469.70" y1="160" x2="469.70" y2="152.5" stroke="#22ea22" stroke-width="0.5"/>
<line x1="469.70" y1="160.3" x2="469.70" y2="168.0" stroke="#e480e4" stroke-width="0.5"/>
<line x1="470.12" y1="160" x2="470.12" y2="153.4" stroke="#22ea22" stroke-width="0.5"/>
<line x1="470.12" y1="160.3" x2="470.12" y2="168.0" stroke="#e480e4" stroke-width="0.5"/>
<line x1="470.54" y1="160.3" x2="470.54" y2="168.0" stroke="#e480e4" stroke-width="0.5"/>
<line x1="470.96" y1="160" x2="470.96" y2="149.3" stroke="#22ea22" stroke-width="0.5"/>
<line x1="470.96" y1="160.3" x2="470.96" y2="167.8" stroke="#e480e4" stroke-width="0.5"/>
<line x1="471.38" y1="160.3" x2="471.38" y2="168.0" stroke="#e480e4" stroke-width="0.5"/>
<line x1="471.80" y1="160" x2="471.80" y2="150.3" stroke="#22ea22" stroke-width="0.5"/>
<line x1="471.80" y1="160.3" x2="471.80" y2="164.7" stroke="#e480e4" stroke-width="0.5"/>
<line x1="472.22" y1="160.3" x2="472.22" y2="163.7" stroke="#e480e4" stroke-width="0.5"/>
<line x1="473.06" y1="160" x2="473.06" y2="153.0" stroke="#22ea22" stroke-width="0.5"/>
<line x1="473.48" y1="160" x2="473.48" y2="150.6" stroke="#22ea22" stroke-width="0.5"/>
<line x1="473.48" y1="160.3" x2="473.48" y2="165.7" stroke="#e480e4" stroke-width="0.5"/>
<line x1="473.90" y1="160" x2="473.90" y2="151.0" stroke="#22ea22" stroke-width="0.5"/>
<line x1="474.32" y1="160" x2="474.32" y2="153.3" stroke="#22ea22" stroke-width="0.5"/>
<line x1="474.32" y1="160.3" x2="474.32" y2="165.7" stroke="#e480e4" stroke-width="0.5"/>
<line x1="474.74" y1="160" x2="474.74" y2="149.7" stroke="#22ea22" stroke-width="0.5"/>
<line x1="474.74" y1="160.3" x2="474.74" y2="163.5" stroke="#e480e4" stroke-width="0.5"/>
<line x1="475.16" y1="160" x2="475.16" y2="151.3" stroke="#22ea22" stroke-width="0.5"/>
<line x1="475.16" y1="160.3" x2="475.16" y2="168.0" stroke="#e480e4" stroke-width="0.5"/>
<line x1="475.58" y1="160" x2="475.58" y2="150.4" stroke="#22ea22" stroke-width="0.5"/>
<line x1="475.58" y1="160.3" x2="475.58" y2="167.6" stroke="#e480e4" stroke-width="0.5"/>
<line x1="476.00" y1="160" x2="476.00" y2="152.7" stroke="#22ea22" stroke-width="0.5"/>
<line x1="476.00" y1="160.3" x2="476.00" y2="167.8" stroke="#e480e4" stroke-width="0.5"/>
<line x1="476.42" y1="160" x2="476.42" y2="151.1" stroke="#22ea22" stroke-width="0.5"/>
<line x1="476.42" y1="160.3" x2="476.42" y2="163.8" stroke="#e480e4" stroke-width="0.5"/>
<line x1="476.84" y1="160" x2="476.84" y2="149.8" stroke="#22ea22" stroke-width="0.5"/>
<line x1="477.26" y1="160" x2="477.26" y2="151.4" stroke="#22ea22" stroke-width="0.5"/>
<line x1="477.26" y1="160.3" x2="477.26" y2="164.8" stroke="#e480e4" stroke-width="0.5"/>
<line x1="477.68" y1="160" x2="477.68" y2="153.3" stroke="#22ea22" stroke-width="0.5"/>
<line x1="477.68" y1="160.3" x2="477.68" y2="165.9" stroke="#e480e4" stroke-width="0.5"/>
<line x1="478.10" y1="160" x2="478.10" y2="150.7" stroke="#22ea22" stroke-width="0.5"/>
<line x1="478.10" y1="160.3" x2="478.10" y2="164.7" stroke="#e480e4" stroke-width="0.5"/>
<line x1="478.52" y1="160" x2="478.52" y2="149.8" stroke="#22ea22" stroke-width="0.5"/>
<line x1="478.52" y1="160.3" x2="478.52" y2="167.8" stroke="#e480e4" stroke-width="0.5"/>
<line x1="478.94" y1="160" x2="478.94" y2="149.8" stroke="#22ea22" stroke-width="0.5"/>
<line x1="478.94" y1="160.3" x2="478.94" y2="165.7" stroke="#e480e4" stroke-width="0.5"/>
<line x1="479.36" y1="160" x2="479.36" y2="149.3" stroke="#22ea22" stroke-width="0.5"/>
<line x1="479.36" y1="160.3" x2="479.36" y2="167.0" stroke="#e480e4" stroke-width="0.5"/>
<line x1="479.78" y1="160" x2="479.78" y2="149.4" stroke="#22ea22" stroke-width="0.5"/>
<line x1="479.78" y1="160.3" x2="479.78" y2="168.0" stroke="#e480e4" stroke-width="0.5"/>
<line x1="480.20" y1="160.3" x2="480.20" y2="170.5" stroke="#e070e0" stroke-width="0.5"/>
<line x1="481.04" y1="160.3" x2="481.04" y2="169.0" stroke="#e070e0" stroke-width="0.5"/>
<line x1="481.46" y1="160.3" x2="481.46" y2="168.7" stroke="#e070e0" stroke-width="0.5"/>
<line x1="481.88" y1="160" x2="481.88" y2="155.1" stroke="#8af08a" stroke-width="0.5"/>
<line x1="481.88" y1="160.3" x2="481.88" y2="168.0" stroke="#e070e0" stroke-width="0.5"/>
<line x1="482.30" y1="160.3" x2="482.30" y2="170.1" stroke="#e070e0" stroke-width="0.5"/>
<line x1="482.72" y1="160.3" x2="482.72" y2="170.5" stroke="#e070e0" stroke-width="0.5"/>
<line x1="483.14" y1="160" x2="483.14" y2="154.1" stroke="#22ea22" stroke-width="0.5"/>
<line x1="483.14" y1="160.3" x2="483.14" y2="170.3" stroke="#e070e0" stroke-width="0.5"/>
<line x1="483.56" y1="160" x2="483.56" y2="154.2" stroke="#22ea22" stroke-width="0.5"/>
<line x1="483.98" y1="160" x2="483.98" y2="153.5" stroke="#22ea22" stroke-width="0.5"/>
<line x1="484.40" y1="160" x2="484.40" y2="149.9" stroke="#22ea22" stroke-width="0.5"/>
<line x1="484.40" y1="160.3" x2="484.40" y2="166.2" stroke="#e070e0" stroke-width="0.5"/>
<line x1="484.82" y1="160" x2="484.82" y2="150.1" stroke="#22ea22" stroke-width="0.5"/>
<line x1="484.82" y1="160.3" x2="484.82" y2="169.7" stroke="#e070e0" stroke-width="0.5"/>
<line x1="485.24" y1="160.3" x2="485.24" y2="170.5" stroke="#e070e0" stroke-width="0.5"/>
<line x1="485.66" y1="160.3" x2="485.66" y2="166.3" stroke="#e070e0" stroke-width="0.5"/>
<line x1="486.50" y1="160.3" x2="486.50" y2="168.9" stroke="#e070e0" stroke-width="0.5"/>
<line x1="486.92" y1="160.3" x2="486.92" y2="168.4" stroke="#e070e0" stroke-width="0.5"/>
<line x1="487.34" y1="160" x2="487.34" y2="152.5" stroke="#22ea22" stroke-width="0.5"/>
<line x1="487.34" y1="160.3" x2="487.34" y2="169.3" stroke="#e070e0" stroke-width="0.5"/>
<line x1="487.76" y1="160.3" x2="487.76" y2="170.5" stroke="#e070e0" stroke-width="0.5"/>
<line x1="488.18" y1="160" x2="488.18" y2="149.5" stroke="#22ea22" stroke-width="0.5"/>
<line x1="488.18" y1="160.3" x2="488.18" y2="170.5" stroke="#e070e0" stroke-width="0.5"/>
<line x1="488.60" y1="160" x2="488.60" y2="154.3" stroke="#22ea22" stroke-width="0.5"/>
<line x1="488.60" y1="160.3" x2="488.60" y2="169.4" stroke="#e070e0" stroke-width="0.5"/>
<line x1="490.70" y1="160.3" x2="490.70" y2="166.2" stroke="#f0b8f0" stroke-width="0.5"/>
<line x1="491.12" y1="160" x2="491.12" y2="151.4" stroke="#22ea22" stroke-width="0.5"/>
<line x1="491.12" y1="160.3" x2="491.12" y2="166.4" stroke="#f0b8f0" stroke-width="0.5"/>
<line x1="491.54" y1="160" x2="491.54" y2="149.9" stroke="#22ea22" stroke-width="0.5"/>
<line x1="493.22" y1="160" x2="493.22" y2="149.2" stroke="#22ea22" stroke-width="0.5"/>
<line x1="493.64" y1="160" x2="493.64" y2="149.8" stroke="#22ea22" stroke-width="0.5"/>
<line x1="494.48" y1="160.3" x2="494.48" y2="166.1" stroke="#f0b8f0" stroke-width="0.5"/>
<line x1="494.90" y1="160.3" x2="494.90" y2="166.4" stroke="#f0b8f0" stroke-width="0.5"/>
<line x1="495.32" y1="160" x2="495.32" y2="150.6" stroke="#22ea22" stroke-width="0.5"/>
<line x1="495.32" y1="160.3" x2="495.32" y2="164.9" stroke="#f0b8f0" stroke-width="0.5"/>
<line x1="495.74" y1="160" x2="495.74" y2="151.6" stroke="#22ea22" stroke-width="0.5"/>
<line x1="496.16" y1="160" x2="496.16" y2="151.4" stroke="#22ea22" stroke-width="0.5"/>
<line x1="496.16" y1="160.3" x2="496.16" y2="166.5" stroke="#f0b8f0" stroke-width="0.5"/>
<line x1="496.58" y1="160" x2="496.58" y2="154.8" stroke="#22ea22" stroke-width="0.5"/>
<line x1="497.00" y1="160" x2="497.00" y2="154.4" stroke="#22ea22" stroke-width="0.5"/>
<line x1="497.00" y1="160.3" x2="497.00" y2="166.5" stroke="#f0b8f0" stroke-width="0.5"/>
<line x1="497.42" y1="160" x2="497.42" y2="149.6" stroke="#22ea22" stroke-width="0.5"/>
<line x1="497.84" y1="160" x2="497.84" y2="149.6" stroke="#22ea22" stroke-width="0.5"/>
<line x1="498.26" y1="160" x2="498.26" y2="151.0" stroke="#22ea22" stroke-width="0.5"/>
<line x1="498.68" y1="160" x2="498.68" y2="150.4" stroke="#22ea22" stroke-width="0.5"/>
<line x1="498.68" y1="160.3" x2="498.68" y2="165.8" stroke="#f0b8f0" stroke-width="0.5"/>
<line x1="499.52" y1="160" x2="499.52" y2="153.2" stroke="#22ea22" stroke-width="0.5"/>
<line x1="499.52" y1="160.3" x2="499.52" y2="162.7" stroke="#f0b8f0" stroke-width="0.5"/>
<line x1="499.94" y1="160" x2="499.94" y2="149.3" stroke="#22ea22" stroke-width="0.5"/>
<line x1="504.14" y1="160" x2="504.14" y2="149.4" stroke="#22ea22" stroke-width="0.5"/>
<line x1="504.56" y1="160" x2="504.56" y2="153.4" stroke="#22ea22" stroke-width="0.5"/>
<line x1="504.56" y1="160.3" x2="504.56" y2="163.7" stroke="#f4c8f4" stroke-width="0.5"/>
<line x1="504.98" y1="160" x2="504.98" y2="149.6" stroke="#22ea22" stroke-width="0.5"/>
<line x1="505.40" y1="160" x2="505.40" y2="151.7" stroke="#22ea22" stroke-width="0.5"/>
<line x1="505.40" y1="160.3" x2="505.40" y2="165.5" stroke="#f4c8f4" stroke-width="0.5"/>
<line x1="505.82" y1="160" x2="505.82" y2="150.5" stroke="#22ea22" stroke-width="0.5"/>
<line x1="507.08" y1="160" x2="507.08" y2="155.1" stroke="#22ea22" stroke-width="0.5"/>
<line x1="507.50" y1="160" x2="507.50" y2="153.1" stroke="#22ea22" stroke-width="0.5"/>
<line x1="507.92" y1="160" x2="507.92" y2="152.4" stroke="#22ea22" stroke-width="0.5"/>
<line x1="508.34" y1="160.3" x2="508.34" y2="165.4" stroke="#f4c8f4" stroke-width="0.5"/>
<line x1="510.02" y1="160.3" x2="510.02" y2="164.6" stroke="#f4c8f4" stroke-width="0.5"/>
<line x1="510.44" y1="160.3" x2="510.44" y2="164.8" stroke="#f4c8f4" stroke-width="0.5"/>
<line x1="511.28" y1="160.3" x2="511.28" y2="162.8" stroke="#f4c8f4" stroke-width="0.5"/>
<line x1="512.54" y1="160.3" x2="512.54" y2="165.1" stroke="#f4c8f4" stroke-width="0.5"/>
<line x1="513.80" y1="160.3" x2="513.80" y2="165.8" stroke="#f4c8f4" stroke-width="0.5"/>
<line x1="514.22" y1="160" x2="514.22" y2="153.7" stroke="#22ea22" stroke-width="0.5"/>
<line x1="514.22" y1="160.3" x2="514.22" y2="164.8" stroke="#f4c8f4" stroke-width="0.5"/>
<line x1="514.64" y1="160" x2="514.64" y2="152.5" stroke="#22ea22" stroke-width="0.5"/>
<line x1="515.06" y1="160" x2="515.06" y2="154.6" stroke="#22ea22" stroke-width="0.5"/>
<line x1="515.48" y1="160" x2="515.48" y2="153.8" stroke="#22ea22" stroke-width="0.5"/>
<line x1="515.90" y1="160" x2="515.90" y2="150.0" stroke="#22ea22" stroke-width="0.5"/>
<line x1="515.90" y1="160.3" x2="515.90" y2="165.0" stroke="#f4c8f4" stroke-width="0.5"/>
<line x1="517.16" y1="160.3" x2="517.16" y2="165.7" stroke="#f4c8f4" stroke-width="0.5"/>
<line x1="518.00" y1="160" x2="518.00" y2="150.3" stroke="#22ea22" stroke-width="0.5"/>
<line x1="518.42" y1="160" x2="518.42" y2="154.2" stroke="#22ea22" stroke-width="0.5"/>
<line x1="519.26" y1="160" x2="519.26" y2="150.0" stroke="#22ea22" stroke-width="0.5"/>
<line x1="519.26" y1="160.3" x2="519.26" y2="163.0" stroke="#f4c8f4" stroke-width="0.5"/>
<line x1="519.68" y1="160" x2="519.68" y2="149.2" stroke="#22ea22" stroke-width="0.5"/>
<line x1="519.68" y1="160.3" x2="519.68" y2="165.4" stroke="#f4c8f4" stroke-width="0.5"/>
<line x1="521.78" y1="160.3" x2="521.78" y2="164.7" stroke="#f4c8f4" stroke-width="0.5"/>
<line x1="522.62" y1="160.3" x2="522.62" y2="165.1" stroke="#f4c8f4" stroke-width="0.5"/>
<line x1="523.46" y1="160.3" x2="523.46" y2="165.8" stroke="#f4c8f4" stroke-width="0.5"/>
<line x1="525.14" y1="160" x2="525.14" y2="149.7" stroke="#22ea22" stroke-width="0.5"/>
<line x1="525.56" y1="160" x2="525.56" y2="155.6" stroke="#22ea22" stroke-width="0.5"/>
<line x1="525.98" y1="160" x2="525.98" y2="151.4" stroke="#22ea22" stroke-width="0.5"/>
<line x1="526.82" y1="160" x2="526.82" y2="152.0" stroke="#22ea22" stroke-width="0.5"/>
<line x1="529.34" y1="160" x2="529.34" y2="153.3" stroke="#22ea22" stroke-width="0.5"/>
<line x1="529.76" y1="160" x2="529.76" y2="152.0" stroke="#22ea22" stroke-width="0.5"/>
<line x1="530.18" y1="160" x2="530.18" y2="150.4" stroke="#22ea22" stroke-width="0.5"/>
<line x1="530.18" y1="160.3" x2="530.18" y2="165.4" stroke="#f4c8f4" stroke-width="0.5"/>
<line x1="530.60" y1="160" x2="530.60" y2="156.1" stroke="#22ea22" stroke-width="0.5"/>
<line x1="531.44" y1="160.3" x2="531.44" y2="165.6" stroke="#f4c8f4" stroke-width="0.5"/>
<line x1="535.22" y1="160" x2="535.22" y2="149.2" stroke="#22ea22" stroke-width="0.5"/>
<line x1="535.64" y1="160" x2="535.64" y2="150.6" stroke="#22ea22" stroke-width="0.5"/>
<line x1="536.06" y1="160" x2="536.06" y2="149.4" stroke="#22ea22" stroke-width="0.5"/>
<line x1="536.06" y1="160.3" x2="536.06" y2="167.6" stroke="#e890e8" stroke-width="0.5"/>
<line x1="536.48" y1="160" x2="536.48" y2="152.9" stroke="#22ea22" stroke-width="0.5"/>
<line x1="536.90" y1="160.3" x2="536.90" y2="163.9" stroke="#e890e8" stroke-width="0.5"/>
<line x1="537.32" y1="160" x2="537.32" y2="149.2" stroke="#22ea22" stroke-width="0.5"/>
<line x1="537.32" y1="160.3" x2="537.32" y2="166.4" stroke="#e890e8" stroke-width="0.5"/>
<line x1="537.74" y1="160.3" x2="537.74" y2="165.1" stroke="#e890e8" stroke-width="0.5"/>
<line x1="538.16" y1="160" x2="538.16" y2="154.5" stroke="#22ea22" stroke-width="0.5"/>
<line x1="538.16" y1="160.3" x2="538.16" y2="166.9" stroke="#e890e8" stroke-width="0.5"/>
<line x1="538.58" y1="160.3" x2="538.58" y2="167.7" stroke="#e890e8" stroke-width="0.5"/>
<line x1="539.00" y1="160" x2="539.00" y2="149.4" stroke="#22ea22" stroke-width="0.5"/>
<line x1="539.00" y1="160.3" x2="539.00" y2="165.6" stroke="#e890e8" stroke-width="0.5"/>
<line x1="539.42" y1="160" x2="539.42" y2="150.3" stroke="#22ea22" stroke-width="0.5"/>
<line x1="539.42" y1="160.3" x2="539.42" y2="166.3" stroke="#e890e8" stroke-width="0.5"/>
<line x1="540.26" y1="160.3" x2="540.26" y2="165.4" stroke="#e890e8" stroke-width="0.5"/>
<line x1="541.10" y1="160" x2="541.10" y2="149.2" stroke="#22ea22" stroke-width="0.5"/>
<line x1="541.52" y1="160.3" x2="541.52" y2="167.9" stroke="#e890e8" stroke-width="0.5"/>
<line x1="541.94" y1="160" x2="541.94" y2="151.2" stroke="#22ea22" stroke-width="0.5"/>
<line x1="542.36" y1="160" x2="542.36" y2="155.2" stroke="#22ea22" stroke-width="0.5"/>
<line x1="542.36" y1="160.3" x2="542.36" y2="167.5" stroke="#e890e8" stroke-width="0.5"/>
<line x1="542.78" y1="160" x2="542.78" y2="152.2" stroke="#22ea22" stroke-width="0.5"/>
<line x1="542.78" y1="160.3" x2="542.78" y2="165.8" stroke="#e890e8" stroke-width="0.5"/>
<line x1="543.20" y1="160" x2="543.20" y2="149.2" stroke="#22ea22" stroke-width="0.5"/>
<line x1="543.20" y1="160.3" x2="543.20" y2="168.0" stroke="#e890e8" stroke-width="0.5"/>
<line x1="543.62" y1="160" x2="543.62" y2="150.0" stroke="#22ea22" stroke-width="0.5"/>
<line x1="543.62" y1="160.3" x2="543.62" y2="166.3" stroke="#e890e8" stroke-width="0.5"/>
<line x1="544.04" y1="160" x2="544.04" y2="150.7" stroke="#22ea22" stroke-width="0.5"/>
<line x1="544.04" y1="160.3" x2="544.04" y2="163.9" stroke="#e890e8" stroke-width="0.5"/>
<line x1="544.46" y1="160" x2="544.46" y2="156.0" stroke="#22ea22" stroke-width="0.5"/>
<line x1="544.46" y1="160.3" x2="544.46" y2="166.2" stroke="#e890e8" stroke-width="0.5"/>
<line x1="544.88" y1="160" x2="544.88" y2="150.0" stroke="#22ea22" stroke-width="0.5"/>
<line x1="544.88" y1="160.3" x2="544.88" y2="167.9" stroke="#e890e8" stroke-width="0.5"/>
<line x1="545.30" y1="160" x2="545.30" y2="153.3" stroke="#22ea22" stroke-width="0.5"/>
<line x1="545.30" y1="160.3" x2="545.30" y2="164.8" stroke="#e890e8" stroke-width="0.5"/>
<line x1="545.72" y1="160" x2="545.72" y2="151.2" stroke="#22ea22" stroke-width="0.5"/>
<line x1="546.14" y1="160" x2="546.14" y2="152.2" stroke="#22ea22" stroke-width="0.5"/>
<line x1="546.56" y1="160" x2="546.56" y2="153.1" stroke="#22ea22" stroke-width="0.5"/>
<line x1="546.56" y1="160.3" x2="546.56" y2="165.6" stroke="#e890e8" stroke-width="0.5"/>
<line x1="546.98" y1="160" x2="546.98" y2="153.4" stroke="#22ea22" stroke-width="0.5"/>
<line x1="546.98" y1="160.3" x2="546.98" y2="165.2" stroke="#e890e8" stroke-width="0.5"/>
<line x1="547.40" y1="160.3" x2="547.40" y2="167.7" stroke="#e890e8" stroke-width="0.5"/>
<line x1="547.82" y1="160" x2="547.82" y2="155.4" stroke="#22ea22" stroke-width="0.5"/>
<line x1="547.82" y1="160.3" x2="547.82" y2="168.0" stroke="#e890e8" stroke-width="0.5"/>
<line x1="570.08" y1="160" x2="570.08" y2="149.4" stroke="#22ea22" stroke-width="0.5"/>
<line x1="570.50" y1="160" x2="570.50" y2="149.4" stroke="#22ea22" stroke-width="0.5"/>
<line x1="570.50" y1="160.3" x2="570.50" y2="167.4" stroke="#e070e0" stroke-width="0.5"/>
<line x1="570.92" y1="160.3" x2="570.92" y2="170.9" stroke="#e070e0" stroke-width="0.5"/>
<line x1="571.34" y1="160" x2="571.34" y2="149.6" stroke="#22ea22" stroke-width="0.5"/>
<line x1="571.76" y1="160" x2="571.76" y2="152.0" stroke="#22ea22" stroke-width="0.5"/>
<line x1="571.76" y1="160.3" x2="571.76" y2="166.7" stroke="#e070e0" stroke-width="0.5"/>
<line x1="572.18" y1="160" x2="572.18" y2="149.9" stroke="#22ea22" stroke-width="0.5"/>
<line x1="572.60" y1="160" x2="572.60" y2="153.0" stroke="#22ea22" stroke-width="0.5"/>
<line x1="572.60" y1="160.3" x2="572.60" y2="168.2" stroke="#e070e0" stroke-width="0.5"/>
<line x1="573.02" y1="160" x2="573.02" y2="154.4" stroke="#22ea22" stroke-width="0.5"/>
<line x1="573.02" y1="160.3" x2="573.02" y2="168.9" stroke="#e070e0" stroke-width="0.5"/>
<line x1="573.44" y1="160" x2="573.44" y2="155.1" stroke="#22ea22" stroke-width="0.5"/>
<line x1="573.86" y1="160" x2="573.86" y2="149.5" stroke="#22ea22" stroke-width="0.5"/>
<line x1="573.86" y1="160.3" x2="573.86" y2="170.5" stroke="#e070e0" stroke-width="0.5"/>
<line x1="574.28" y1="160" x2="574.28" y2="149.6" stroke="#22ea22" stroke-width="0.5"/>
<line x1="574.28" y1="160.3" x2="574.28" y2="167.2" stroke="#e070e0" stroke-width="0.5"/>
<line x1="574.70" y1="160" x2="574.70" y2="149.8" stroke="#22ea22" stroke-width="0.5"/>
<line x1="575.12" y1="160.3" x2="575.12" y2="170.8" stroke="#e070e0" stroke-width="0.5"/>
<line x1="576.38" y1="160" x2="576.38" y2="149.8" stroke="#22ea22" stroke-width="0.5"/>
<line x1="576.38" y1="160.3" x2="576.38" y2="169.4" stroke="#e070e0" stroke-width="0.5"/>
<line x1="576.80" y1="160.3" x2="576.80" y2="167.9" stroke="#e070e0" stroke-width="0.5"/>
<line x1="577.22" y1="160" x2="577.22" y2="150.6" stroke="#22ea22" stroke-width="0.5"/>
<line x1="577.22" y1="160.3" x2="577.22" y2="165.8" stroke="#e070e0" stroke-width="0.5"/>
<line x1="577.64" y1="160" x2="577.64" y2="154.7" stroke="#22ea22" stroke-width="0.5"/>
<line x1="577.64" y1="160.3" x2="577.64" y2="167.0" stroke="#e070e0" stroke-width="0.5"/>
<line x1="578.06" y1="160.3" x2="578.06" y2="166.0" stroke="#e070e0" stroke-width="0.5"/>
<line x1="578.48" y1="160.3" x2="578.48" y2="170.9" stroke="#e070e0" stroke-width="0.5"/>
<line x1="578.90" y1="160" x2="578.90" y2="155.9" stroke="#22ea22" stroke-width="0.5"/>
<line x1="578.90" y1="160.3" x2="578.90" y2="165.5" stroke="#e070e0" stroke-width="0.5"/>
<line x1="579.32" y1="160" x2="579.32" y2="153.0" stroke="#22ea22" stroke-width="0.5"/>
<line x1="579.32" y1="160.3" x2="579.32" y2="170.8" stroke="#e070e0" stroke-width="0.5"/>
<line x1="579.74" y1="160" x2="579.74" y2="149.3" stroke="#22ea22" stroke-width="0.5"/>
<line x1="579.74" y1="160.3" x2="579.74" y2="165.4" stroke="#e070e0" stroke-width="0.5"/>
<line x1="580.58" y1="160.3" x2="580.58" y2="170.6" stroke="#e070e0" stroke-width="0.5"/>
<line x1="581.00" y1="160.3" x2="581.00" y2="170.9" stroke="#e070e0" stroke-width="0.5"/>
<line x1="581.42" y1="160.3" x2="581.42" y2="169.7" stroke="#e070e0" stroke-width="0.5"/>
<line x1="581.84" y1="160" x2="581.84" y2="149.2" stroke="#8af08a" stroke-width="0.5"/>
<line x1="582.68" y1="160.3" x2="582.68" y2="170.8" stroke="#e070e0" stroke-width="0.5"/>
<line x1="583.10" y1="160" x2="583.10" y2="149.4" stroke="#22ea22" stroke-width="0.5"/>
<line x1="583.10" y1="160.3" x2="583.10" y2="170.8" stroke="#e070e0" stroke-width="0.5"/>
<line x1="583.52" y1="160" x2="583.52" y2="151.0" stroke="#22ea22" stroke-width="0.5"/>
<line x1="583.52" y1="160.3" x2="583.52" y2="170.1" stroke="#e070e0" stroke-width="0.5"/>
<line x1="583.94" y1="160" x2="583.94" y2="155.1" stroke="#22ea22" stroke-width="0.5"/>
<line x1="583.94" y1="160.3" x2="583.94" y2="170.6" stroke="#e070e0" stroke-width="0.5"/>
<line x1="584.78" y1="160" x2="584.78" y2="149.7" stroke="#22ea22" stroke-width="0.5"/>
<line x1="584.78" y1="160.3" x2="584.78" y2="170.5" stroke="#e070e0" stroke-width="0.5"/>
<line x1="585.20" y1="160" x2="585.20" y2="149.2" stroke="#22ea22" stroke-width="0.5"/>
<line x1="585.20" y1="160.3" x2="585.20" y2="169.9" stroke="#e070e0" stroke-width="0.5"/>
<line x1="585.62" y1="160" x2="585.62" y2="150.1" stroke="#22ea22" stroke-width="0.5"/>
<line x1="585.62" y1="160.3" x2="585.62" y2="167.8" stroke="#e070e0" stroke-width="0.5"/>
<line x1="586.04" y1="160" x2="586.04" y2="151.3" stroke="#22ea22" stroke-width="0.5"/>
<line x1="586.04" y1="160.3" x2="586.04" y2="167.8" stroke="#e070e0" stroke-width="0.5"/>
<line x1="586.88" y1="160" x2="586.88" y2="150.3" stroke="#22ea22" stroke-width="0.5"/>
<line x1="586.88" y1="160.3" x2="586.88" y2="169.8" stroke="#e070e0" stroke-width="0.5"/>
<line x1="587.30" y1="160.3" x2="587.30" y2="170.0" stroke="#e070e0" stroke-width="0.5"/>
<line x1="587.72" y1="160.3" x2="587.72" y2="164.4" stroke="#e070e0" stroke-width="0.5"/>
<line x1="588.14" y1="160" x2="588.14" y2="151.8" stroke="#8af08a" stroke-width="0.5"/>
<line x1="588.56" y1="160.3" x2="588.56" y2="170.0" stroke="#e070e0" stroke-width="0.5"/>
<line x1="588.98" y1="160.3" x2="588.98" y2="170.9" stroke="#e070e0" stroke-width="0.5"/>
<line x1="589.82" y1="160.3" x2="589.82" y2="167.8" stroke="#e070e0" stroke-width="0.5"/>
<line x1="590.24" y1="160" x2="590.24" y2="152.1" stroke="#22ea22" stroke-width="0.5"/>
<line x1="590.24" y1="160.3" x2="590.24" y2="170.3" stroke="#e070e0" stroke-width="0.5"/>
<line x1="590.66" y1="160.3" x2="590.66" y2="167.3" stroke="#e070e0" stroke-width="0.5"/>
<line x1="591.08" y1="160.3" x2="591.08" y2="168.6" stroke="#e070e0" stroke-width="0.5"/>
<line x1="591.50" y1="160.3" x2="591.50" y2="168.3" stroke="#e070e0" stroke-width="0.5"/>
<line x1="591.92" y1="160" x2="591.92" y2="150.2" stroke="#22ea22" stroke-width="0.5"/>
<line x1="592.34" y1="160.3" x2="592.34" y2="168.5" stroke="#e070e0" stroke-width="0.5"/>
<line x1="592.76" y1="160.3" x2="592.76" y2="168.4" stroke="#e070e0" stroke-width="0.5"/>
<line x1="593.18" y1="160.3" x2="593.18" y2="168.5" stroke="#e070e0" stroke-width="0.5"/>
<line x1="594.44" y1="160.3" x2="594.44" y2="170.6" stroke="#e070e0" stroke-width="0.5"/>
<line x1="595.28" y1="160" x2="595.28" y2="151.1" stroke="#22ea22" stroke-width="0.5"/>
<line x1="595.28" y1="160.3" x2="595.28" y2="166.6" stroke="#e070e0" stroke-width="0.5"/>
<line x1="595.70" y1="160" x2="595.70" y2="149.4" stroke="#22ea22" stroke-width="0.5"/>
<line x1="596.12" y1="160" x2="596.12" y2="152.1" stroke="#22ea22" stroke-width="0.5"/>
<line x1="596.96" y1="160" x2="596.96" y2="150.2" stroke="#22ea22" stroke-width="0.5"/>
<line x1="597.38" y1="160" x2="597.38" y2="149.3" stroke="#22ea22" stroke-width="0.5"/>
<line x1="597.38" y1="160.3" x2="597.38" y2="170.5" stroke="#e070e0" stroke-width="0.5"/>
<line x1="597.80" y1="160" x2="597.80" y2="150.1" stroke="#22ea22" stroke-width="0.5"/>
<line x1="598.22" y1="160.3" x2="598.22" y2="170.9" stroke="#e070e0" stroke-width="0.5"/>
<line x1="599.06" y1="160.3" x2="599.06" y2="169.4" stroke="#e070e0" stroke-width="0.5"/>
<line x1="599.90" y1="160.3" x2="599.90" y2="170.1" stroke="#e070e0" stroke-width="0.5"/>
<line x1="600.32" y1="160" x2="600.32" y2="149.6" stroke="#22ea22" stroke-width="0.5"/>
<line x1="600.32" y1="160.3" x2="600.32" y2="170.2" stroke="#e070e0" stroke-width="0.5"/>
<line x1="600.74" y1="160" x2="600.74" y2="149.2" stroke="#22ea22" stroke-width="0.5"/>
<line x1="600.74" y1="160.3" x2="600.74" y2="168.8" stroke="#e070e0" stroke-width="0.5"/>
<line x1="601.16" y1="160" x2="601.16" y2="149.4" stroke="#22ea22" stroke-width="0.5"/>
<line x1="601.58" y1="160" x2="601.58" y2="149.9" stroke="#22ea22" stroke-width="0.5"/>
<line x1="601.58" y1="160.3" x2="601.58" y2="166.4" stroke="#e070e0" stroke-width="0.5"/>
<line x1="602.00" y1="160" x2="602.00" y2="152.0" stroke="#22ea22" stroke-width="0.5"/>
<line x1="602.42" y1="160" x2="602.42" y2="150.5" stroke="#22ea22" stroke-width="0.5"/>
<line x1="602.84" y1="160" x2="602.84" y2="150.2" stroke="#22ea22" stroke-width="0.5"/>
<line x1="602.84" y1="160.3" x2="602.84" y2="169.7" stroke="#e070e0" stroke-width="0.5"/>
<line x1="603.26" y1="160" x2="603.26" y2="152.8" stroke="#22ea22" stroke-width="0.5"/>
<line x1="603.26" y1="160.3" x2="603.26" y2="169.9" stroke="#e070e0" stroke-width="0.5"/>
<line x1="603.68" y1="160" x2="603.68" y2="153.8" stroke="#22ea22" stroke-width="0.5"/>
<line x1="603.68" y1="160.3" x2="603.68" y2="170.0" stroke="#e070e0" stroke-width="0.5"/>
<line x1="604.94" y1="160.3" x2="604.94" y2="168.0" stroke="#e070e0" stroke-width="0.5"/>
<line x1="605.36" y1="160" x2="605.36" y2="149.2" stroke="#22ea22" stroke-width="0.5"/>
<line x1="605.78" y1="160" x2="605.78" y2="151.1" stroke="#22ea22" stroke-width="0.5"/>
<line x1="605.78" y1="160.3" x2="605.78" y2="165.6" stroke="#e070e0" stroke-width="0.5"/>
<line x1="606.20" y1="160" x2="606.20" y2="149.2" stroke="#22ea22" stroke-width="0.5"/>
<line x1="606.20" y1="160.3" x2="606.20" y2="169.5" stroke="#e070e0" stroke-width="0.5"/>
<line x1="606.62" y1="160" x2="606.62" y2="154.1" stroke="#22ea22" stroke-width="0.5"/>
<line x1="606.62" y1="160.3" x2="606.62" y2="169.5" stroke="#e070e0" stroke-width="0.5"/>
<line x1="607.04" y1="160.3" x2="607.04" y2="169.4" stroke="#e070e0" stroke-width="0.5"/>
<line x1="607.46" y1="160" x2="607.46" y2="154.0" stroke="#22ea22" stroke-width="0.5"/>
<line x1="607.46" y1="160.3" x2="607.46" y2="167.3" stroke="#e070e0" stroke-width="0.5"/>
<line x1="607.88" y1="160" x2="607.88" y2="149.2" stroke="#22ea22" stroke-width="0.5"/>
<line x1="607.88" y1="160.3" x2="607.88" y2="168.9" stroke="#e070e0" stroke-width="0.5"/>
<line x1="608.30" y1="160" x2="608.30" y2="153.4" stroke="#22ea22" stroke-width="0.5"/>
<line x1="608.30" y1="160.3" x2="608.30" y2="170.6" stroke="#e070e0" stroke-width="0.5"/>
<line x1="608.72" y1="160" x2="608.72" y2="153.9" stroke="#22ea22" stroke-width="0.5"/>
<line x1="608.72" y1="160.3" x2="608.72" y2="170.9" stroke="#e070e0" stroke-width="0.5"/>
<line x1="609.98" y1="160" x2="609.98" y2="152.5" stroke="#8af08a" stroke-width="0.5"/>
<line x1="611.24" y1="160" x2="611.24" y2="152.5" stroke="#8af08a" stroke-width="0.5"/>
<line x1="615.02" y1="160" x2="615.02" y2="156.1" stroke="#8af08a" stroke-width="0.5"/>
<line x1="618.80" y1="160" x2="618.80" y2="149.8" stroke="#8af08a" stroke-width="0.5"/>
<line x1="620.06" y1="160.3" x2="620.06" y2="170.7" stroke="#e070e0" stroke-width="0.5"/>
<line x1="620.48" y1="160" x2="620.48" y2="151.2" stroke="#22ea22" stroke-width="0.5"/>
<line x1="620.48" y1="160.3" x2="620.48" y2="169.5" stroke="#e070e0" stroke-width="0.5"/>
<line x1="620.90" y1="160" x2="620.90" y2="151.6" stroke="#22ea22" stroke-width="0.5"/>
<line x1="620.90" y1="160.3" x2="620.90" y2="166.7" stroke="#e070e0" stroke-width="0.5"/>
<line x1="621.32" y1="160" x2="621.32" y2="155.1" stroke="#22ea22" stroke-width="0.5"/>
<line x1="621.32" y1="160.3" x2="621.32" y2="170.9" stroke="#e070e0" stroke-width="0.5"/>
<line x1="621.74" y1="160" x2="621.74" y2="151.2" stroke="#22ea22" stroke-width="0.5"/>
<line x1="621.74" y1="160.3" x2="621.74" y2="168.9" stroke="#e070e0" stroke-width="0.5"/>
<line x1="622.16" y1="160" x2="622.16" y2="149.7" stroke="#22ea22" stroke-width="0.5"/>
<line x1="622.16" y1="160.3" x2="622.16" y2="170.4" stroke="#e070e0" stroke-width="0.5"/>
<line x1="622.58" y1="160" x2="622.58" y2="153.7" stroke="#22ea22" stroke-width="0.5"/>
<line x1="622.58" y1="160.3" x2="622.58" y2="169.6" stroke="#e070e0" stroke-width="0.5"/>
<line x1="623.00" y1="160.3" x2="623.00" y2="165.9" stroke="#e070e0" stroke-width="0.5"/>
<line x1="623.42" y1="160" x2="623.42" y2="150.5" stroke="#22ea22" stroke-width="0.5"/>
<line x1="623.42" y1="160.3" x2="623.42" y2="170.9" stroke="#e070e0" stroke-width="0.5"/>
<line x1="623.84" y1="160.3" x2="623.84" y2="168.6" stroke="#e070e0" stroke-width="0.5"/>
<line x1="624.26" y1="160" x2="624.26" y2="155.2" stroke="#22ea22" stroke-width="0.5"/>
<line x1="624.26" y1="160.3" x2="624.26" y2="166.7" stroke="#e070e0" stroke-width="0.5"/>
<line x1="624.68" y1="160" x2="624.68" y2="152.4" stroke="#22ea22" stroke-width="0.5"/>
<line x1="624.68" y1="160.3" x2="624.68" y2="170.4" stroke="#e070e0" stroke-width="0.5"/>
<line x1="625.10" y1="160" x2="625.10" y2="154.1" stroke="#22ea22" stroke-width="0.5"/>
<line x1="625.10" y1="160.3" x2="625.10" y2="165.4" stroke="#e070e0" stroke-width="0.5"/>
<line x1="625.52" y1="160" x2="625.52" y2="149.3" stroke="#22ea22" stroke-width="0.5"/>
<line x1="625.52" y1="160.3" x2="625.52" y2="166.9" stroke="#e070e0" stroke-width="0.5"/>
<line x1="625.94" y1="160.3" x2="625.94" y2="168.1" stroke="#e070e0" stroke-width="0.5"/>
<line x1="626.36" y1="160" x2="626.36" y2="155.0" stroke="#22ea22" stroke-width="0.5"/>
<line x1="626.36" y1="160.3" x2="626.36" y2="170.8" stroke="#e070e0" stroke-width="0.5"/>
<line x1="626.78" y1="160" x2="626.78" y2="152.6" stroke="#22ea22" stroke-width="0.5"/>
<line x1="626.78" y1="160.3" x2="626.78" y2="166.4" stroke="#e070e0" stroke-width="0.5"/>
<line x1="627.20" y1="160" x2="627.20" y2="149.6" stroke="#22ea22" stroke-width="0.5"/>
<line x1="627.20" y1="160.3" x2="627.20" y2="170.3" stroke="#e070e0" stroke-width="0.5"/>
<line x1="627.62" y1="160" x2="627.62" y2="149.4" stroke="#22ea22" stroke-width="0.5"/>
<line x1="628.04" y1="160" x2="628.04" y2="154.2" stroke="#22ea22" stroke-width="0.5"/>
<line x1="628.04" y1="160.3" x2="628.04" y2="166.8" stroke="#e070e0" stroke-width="0.5"/>
<line x1="628.46" y1="160.3" x2="628.46" y2="170.9" stroke="#e070e0" stroke-width="0.5"/>
<line x1="628.88" y1="160" x2="628.88" y2="152.1" stroke="#22ea22" stroke-width="0.5"/>
<line x1="628.88" y1="160.3" x2="628.88" y2="169.0" stroke="#e070e0" stroke-width="0.5"/>
<line x1="629.30" y1="160" x2="629.30" y2="150.7" stroke="#22ea22" stroke-width="0.5"/>
<line x1="629.30" y1="160.3" x2="629.30" y2="169.7" stroke="#e070e0" stroke-width="0.5"/>
<line x1="629.72" y1="160" x2="629.72" y2="149.3" stroke="#22ea22" stroke-width="0.5"/>
<line x1="630.14" y1="160" x2="630.14" y2="155.2" stroke="#22ea22" stroke-width="0.5"/>
<line x1="630.56" y1="160.3" x2="630.56" y2="170.4" stroke="#e070e0" stroke-width="0.5"/>
<line x1="630.98" y1="160" x2="630.98" y2="153.2" stroke="#22ea22" stroke-width="0.5"/>
<line x1="630.98" y1="160.3" x2="630.98" y2="165.3" stroke="#e070e0" stroke-width="0.5"/>
<line x1="631.40" y1="160" x2="631.40" y2="150.8" stroke="#8af08a" stroke-width="0.5"/>
<line x1="631.82" y1="160.3" x2="631.82" y2="170.9" stroke="#e070e0" stroke-width="0.5"/>
<line x1="632.24" y1="160" x2="632.24" y2="149.7" stroke="#22ea22" stroke-width="0.5"/>
<line x1="632.66" y1="160" x2="632.66" y2="149.6" stroke="#22ea22" stroke-width="0.5"/>
<line x1="633.08" y1="160" x2="633.08" y2="151.7" stroke="#22ea22" stroke-width="0.5"/>
<line x1="633.50" y1="160" x2="633.50" y2="155.5" stroke="#22ea22" stroke-width="0.5"/>
<line x1="633.50" y1="160.3" x2="633.50" y2="170.9" stroke="#e070e0" stroke-width="0.5"/>
<line x1="633.92" y1="160" x2="633.92" y2="150.6" stroke="#22ea22" stroke-width="0.5"/>
<line x1="633.92" y1="160.3" x2="633.92" y2="167.3" stroke="#e070e0" stroke-width="0.5"/>
<line x1="634.34" y1="160" x2="634.34" y2="153.6" stroke="#22ea22" stroke-width="0.5"/>
<line x1="634.34" y1="160.3" x2="634.34" y2="170.9" stroke="#e070e0" stroke-width="0.5"/>
<line x1="634.76" y1="160" x2="634.76" y2="149.3" stroke="#22ea22" stroke-width="0.5"/>
<line x1="634.76" y1="160.3" x2="634.76" y2="166.9" stroke="#e070e0" stroke-width="0.5"/>
<line x1="635.18" y1="160" x2="635.18" y2="150.7" stroke="#22ea22" stroke-width="0.5"/>
<line x1="635.18" y1="160.3" x2="635.18" y2="169.2" stroke="#e070e0" stroke-width="0.5"/>
<line x1="635.60" y1="160" x2="635.60" y2="152.1" stroke="#22ea22" stroke-width="0.5"/>
<line x1="635.60" y1="160.3" x2="635.60" y2="168.8" stroke="#e070e0" stroke-width="0.5"/>
<line x1="636.02" y1="160" x2="636.02" y2="150.2" stroke="#22ea22" stroke-width="0.5"/>
<line x1="636.02" y1="160.3" x2="636.02" y2="170.8" stroke="#e070e0" stroke-width="0.5"/>
<line x1="636.44" y1="160" x2="636.44" y2="155.4" stroke="#22ea22" stroke-width="0.5"/>
<line x1="636.44" y1="160.3" x2="636.44" y2="166.3" stroke="#e070e0" stroke-width="0.5"/>
<line x1="636.86" y1="160.3" x2="636.86" y2="170.8" stroke="#e070e0" stroke-width="0.5"/>
<line x1="637.28" y1="160" x2="637.28" y2="154.6" stroke="#8af08a" stroke-width="0.5"/>
<line x1="637.70" y1="160" x2="637.70" y2="150.9" stroke="#8af08a" stroke-width="0.5"/>
<line x1="638.54" y1="160" x2="638.54" y2="150.7" stroke="#8af08a" stroke-width="0.5"/>
<line x1="639.38" y1="160" x2="639.38" y2="151.0" stroke="#22ea22" stroke-width="0.5"/>
<line x1="639.38" y1="160.3" x2="639.38" y2="170.0" stroke="#e27ae2" stroke-width="0.5"/>
<line x1="639.80" y1="160" x2="639.80" y2="149.5" stroke="#22ea22" stroke-width="0.5"/>
<line x1="639.80" y1="160.3" x2="639.80" y2="169.9" stroke="#e27ae2" stroke-width="0.5"/>
<line x1="640.22" y1="160.3" x2="640.22" y2="165.4" stroke="#e27ae2" stroke-width="0.5"/>
<line x1="640.64" y1="160" x2="640.64" y2="155.4" stroke="#22ea22" stroke-width="0.5"/>
<line x1="640.64" y1="160.3" x2="640.64" y2="166.4" stroke="#e27ae2" stroke-width="0.5"/>
<line x1="641.06" y1="160" x2="641.06" y2="152.5" stroke="#22ea22" stroke-width="0.5"/>
<line x1="641.06" y1="160.3" x2="641.06" y2="166.8" stroke="#e27ae2" stroke-width="0.5"/>
<line x1="641.48" y1="160" x2="641.48" y2="149.7" stroke="#22ea22" stroke-width="0.5"/>
<line x1="641.48" y1="160.3" x2="641.48" y2="169.3" stroke="#e27ae2" stroke-width="0.5"/>
<line x1="641.90" y1="160" x2="641.90" y2="149.8" stroke="#22ea22" stroke-width="0.5"/>
<line x1="642.32" y1="160" x2="642.32" y2="151.5" stroke="#8af08a" stroke-width="0.5"/>
<line x1="642.32" y1="160.3" x2="642.32" y2="168.0" stroke="#e27ae2" stroke-width="0.5"/>
<line x1="643.16" y1="160" x2="643.16" y2="149.6" stroke="#22ea22" stroke-width="0.5"/>
<line x1="643.16" y1="160.3" x2="643.16" y2="164.3" stroke="#e27ae2" stroke-width="0.5"/>
<line x1="643.58" y1="160" x2="643.58" y2="151.9" stroke="#22ea22" stroke-width="0.5"/>
<line x1="644.00" y1="160" x2="644.00" y2="150.0" stroke="#22ea22" stroke-width="0.5"/>
<line x1="644.42" y1="160" x2="644.42" y2="155.2" stroke="#22ea22" stroke-width="0.5"/>
<line x1="644.42" y1="160.3" x2="644.42" y2="164.8" stroke="#e27ae2" stroke-width="0.5"/>
<line x1="644.84" y1="160" x2="644.84" y2="150.4" stroke="#22ea22" stroke-width="0.5"/>
<line x1="644.84" y1="160.3" x2="644.84" y2="169.9" stroke="#e27ae2" stroke-width="0.5"/>
<line x1="645.26" y1="160" x2="645.26" y2="152.4" stroke="#22ea22" stroke-width="0.5"/>
<line x1="645.26" y1="160.3" x2="645.26" y2="169.5" stroke="#e27ae2" stroke-width="0.5"/>
<line x1="645.68" y1="160" x2="645.68" y2="149.5" stroke="#22ea22" stroke-width="0.5"/>
<line x1="645.68" y1="160.3" x2="645.68" y2="169.5" stroke="#e27ae2" stroke-width="0.5"/>
<line x1="646.52" y1="160" x2="646.52" y2="150.8" stroke="#22ea22" stroke-width="0.5"/>
<line x1="646.52" y1="160.3" x2="646.52" y2="166.5" stroke="#e27ae2" stroke-width="0.5"/>
<line x1="647.36" y1="160" x2="647.36" y2="149.5" stroke="#22ea22" stroke-width="0.5"/>
<line x1="647.78" y1="160" x2="647.78" y2="153.5" stroke="#22ea22" stroke-width="0.5"/>
<line x1="647.78" y1="160.3" x2="647.78" y2="167.1" stroke="#e27ae2" stroke-width="0.5"/>
<line x1="648.20" y1="160.3" x2="648.20" y2="164.5" stroke="#e27ae2" stroke-width="0.5"/>
<line x1="650.30" y1="160" x2="650.30" y2="151.6" stroke="#22ea22" stroke-width="0.5"/>
<line x1="650.30" y1="160.3" x2="650.30" y2="166.0" stroke="#e27ae2" stroke-width="0.5"/>
<line x1="650.72" y1="160" x2="650.72" y2="154.5" stroke="#22ea22" stroke-width="0.5"/>
<line x1="650.72" y1="160.3" x2="650.72" y2="164.6" stroke="#e27ae2" stroke-width="0.5"/>
<line x1="651.14" y1="160" x2="651.14" y2="155.5" stroke="#22ea22" stroke-width="0.5"/>
<line x1="651.14" y1="160.3" x2="651.14" y2="164.5" stroke="#e27ae2" stroke-width="0.5"/>
<line x1="651.56" y1="160" x2="651.56" y2="149.6" stroke="#22ea22" stroke-width="0.5"/>
<line x1="651.98" y1="160" x2="651.98" y2="149.5" stroke="#22ea22" stroke-width="0.5"/>
<line x1="651.98" y1="160.3" x2="651.98" y2="169.9" stroke="#e27ae2" stroke-width="0.5"/>
<line x1="652.40" y1="160" x2="652.40" y2="155.0" stroke="#22ea22" stroke-width="0.5"/>
<line x1="652.82" y1="160" x2="652.82" y2="150.3" stroke="#22ea22" stroke-width="0.5"/>
<line x1="654.08" y1="160" x2="654.08" y2="149.2" stroke="#22ea22" stroke-width="0.5"/>
<line x1="654.50" y1="160" x2="654.50" y2="150.0" stroke="#22ea22" stroke-width="0.5"/>
<line x1="654.50" y1="160.3" x2="654.50" y2="165.9" stroke="#e27ae2" stroke-width="0.5"/>
<line x1="654.92" y1="160" x2="654.92" y2="149.2" stroke="#22ea22" stroke-width="0.5"/>
<line x1="654.92" y1="160.3" x2="654.92" y2="170.2" stroke="#e27ae2" stroke-width="0.5"/>
<line x1="655.34" y1="160" x2="655.34" y2="153.8" stroke="#22ea22" stroke-width="0.5"/>
<line x1="655.34" y1="160.3" x2="655.34" y2="168.0" stroke="#e27ae2" stroke-width="0.5"/>
<line x1="655.76" y1="160" x2="655.76" y2="150.0" stroke="#22ea22" stroke-width="0.5"/>
<line x1="655.76" y1="160.3" x2="655.76" y2="169.5" stroke="#e27ae2" stroke-width="0.5"/>
<line x1="656.18" y1="160" x2="656.18" y2="151.9" stroke="#22ea22" stroke-width="0.5"/>
<line x1="656.18" y1="160.3" x2="656.18" y2="170.2" stroke="#e27ae2" stroke-width="0.5"/>
<line x1="656.60" y1="160" x2="656.60" y2="152.6" stroke="#22ea22" stroke-width="0.5"/>
<line x1="656.60" y1="160.3" x2="656.60" y2="167.5" stroke="#e27ae2" stroke-width="0.5"/>
<line x1="657.02" y1="160" x2="657.02" y2="149.3" stroke="#22ea22" stroke-width="0.5"/>
<line x1="657.44" y1="160" x2="657.44" y2="154.0" stroke="#22ea22" stroke-width="0.5"/>
<line x1="657.44" y1="160.3" x2="657.44" y2="169.8" stroke="#e27ae2" stroke-width="0.5"/>
<line x1="657.86" y1="160.3" x2="657.86" y2="169.9" stroke="#e27ae2" stroke-width="0.5"/>
<line x1="663.32" y1="160" x2="663.32" y2="149.4" stroke="#22ea22" stroke-width="0.5"/>
<line x1="663.74" y1="160" x2="663.74" y2="153.8" stroke="#22ea22" stroke-width="0.5"/>
<line x1="663.74" y1="160.3" x2="663.74" y2="169.7" stroke="#e070e0" stroke-width="0.5"/>
<line x1="664.16" y1="160" x2="664.16" y2="151.3" stroke="#22ea22" stroke-width="0.5"/>
<line x1="664.58" y1="160" x2="664.58" y2="150.2" stroke="#22ea22" stroke-width="0.5"/>
<line x1="665.00" y1="160.3" x2="665.00" y2="170.5" stroke="#e070e0" stroke-width="0.5"/>
<line x1="665.42" y1="160" x2="665.42" y2="150.6" stroke="#22ea22" stroke-width="0.5"/>
<line x1="665.84" y1="160" x2="665.84" y2="152.3" stroke="#22ea22" stroke-width="0.5"/>
<line x1="665.84" y1="160.3" x2="665.84" y2="169.6" stroke="#e070e0" stroke-width="0.5"/>
<line x1="666.26" y1="160.3" x2="666.26" y2="165.3" stroke="#e070e0" stroke-width="0.5"/>
<line x1="666.68" y1="160.3" x2="666.68" y2="164.5" stroke="#e070e0" stroke-width="0.5"/>
<line x1="667.10" y1="160" x2="667.10" y2="154.1" stroke="#22ea22" stroke-width="0.5"/>
<line x1="667.10" y1="160.3" x2="667.10" y2="168.6" stroke="#e070e0" stroke-width="0.5"/>
<line x1="667.52" y1="160" x2="667.52" y2="153.2" stroke="#22ea22" stroke-width="0.5"/>
<line x1="667.94" y1="160" x2="667.94" y2="153.1" stroke="#22ea22" stroke-width="0.5"/>
<line x1="667.94" y1="160.3" x2="667.94" y2="169.8" stroke="#e070e0" stroke-width="0.5"/>
<line x1="668.36" y1="160" x2="668.36" y2="155.6" stroke="#22ea22" stroke-width="0.5"/>
<line x1="668.78" y1="160" x2="668.78" y2="151.6" stroke="#22ea22" stroke-width="0.5"/>
<line x1="668.78" y1="160.3" x2="668.78" y2="170.5" stroke="#e070e0" stroke-width="0.5"/>
<line x1="669.20" y1="160" x2="669.20" y2="153.1" stroke="#22ea22" stroke-width="0.5"/>
<line x1="669.20" y1="160.3" x2="669.20" y2="170.0" stroke="#e070e0" stroke-width="0.5"/>
<line x1="669.62" y1="160" x2="669.62" y2="149.8" stroke="#22ea22" stroke-width="0.5"/>
<line x1="669.62" y1="160.3" x2="669.62" y2="169.4" stroke="#e070e0" stroke-width="0.5"/>
<polyline points="434,162.4 443,162.8 444,164 457,164.2 459,164.8 483,164.6" fill="none" stroke="#5a4ad8" stroke-width="0.6" stroke-dasharray="1.2 0.4"/>
<polyline points="536,162.5 541,162" fill="none" stroke="#5a4ad8" stroke-width="0.6"/>
<polyline points="547,157 572,157 573,155.8 600,155.6 600,154.8 609,154.6" fill="none" stroke="#e05050" stroke-width="0.9"/>
<polyline points="608,149 614,149" fill="none" stroke="#f0a0a0" stroke-width="0.9"/>
<polyline points="616,151.4 622,151.4 622,155.4 640,155.4 640,151 643,151 644,155 665,155 665,152.4 669,152.4" fill="none" stroke="#e05050" stroke-width="0.9"/>
<circle cx="610" cy="142" r="0.4" fill="#f88" opacity="0.6"/>
<circle cx="624" cy="141" r="0.4" fill="#f88" opacity="0.6"/>
<circle cx="637" cy="146" r="0.4" fill="#f88" opacity="0.6"/>
<circle cx="661" cy="138" r="0.4" fill="#f88" opacity="0.6"/>
<circle cx="669" cy="144" r="0.4" fill="#f88" opacity="0.6"/>
<text x="433.6" y="197" font-size="4.3" text-anchor="middle" fill="#666">0</text>
<line x1="433.6" y1="191.8" x2="433.6" y2="193.2" stroke="#88a" stroke-width="0.4"/>
<text x="452.6" y="197" font-size="4.3" text-anchor="middle" fill="#666">20</text>
<line x1="452.6" y1="191.8" x2="452.6" y2="193.2" stroke="#88a" stroke-width="0.4"/>
<text x="471.6" y="197" font-size="4.3" text-anchor="middle" fill="#666">40</text>
<line x1="471.6" y1="191.8" x2="471.6" y2="193.2" stroke="#88a" stroke-width="0.4"/>
<text x="490.6" y="197" font-size="4.3" text-anchor="middle" fill="#666">60</text>
<line x1="490.6" y1="191.8" x2="490.6" y2="193.2" stroke="#88a" stroke-width="0.4"/>
<text x="509.6" y="197" font-size="4.3" text-anchor="middle" fill="#666">80</text>
<line x1="509.6" y1="191.8" x2="509.6" y2="193.2" stroke="#88a" stroke-width="0.4"/>
<text x="528.6" y="197" font-size="4.3" text-anchor="middle" fill="#666">100</text>
<line x1="528.6" y1="191.8" x2="528.6" y2="193.2" stroke="#88a" stroke-width="0.4"/>
<text x="547.6" y="197" font-size="4.3" text-anchor="middle" fill="#666">120</text>
<line x1="547.6" y1="191.8" x2="547.6" y2="193.2" stroke="#88a" stroke-width="0.4"/>
<text x="566.6" y="197" font-size="4.3" text-anchor="middle" fill="#666">140</text>
<line x1="566.6" y1="191.8" x2="566.6" y2="193.2" stroke="#88a" stroke-width="0.4"/>
<text x="585.6" y="197" font-size="4.3" text-anchor="middle" fill="#666">160</text>
<line x1="585.6" y1="191.8" x2="585.6" y2="193.2" stroke="#88a" stroke-width="0.4"/>
<text x="604.6" y="197" font-size="4.3" text-anchor="middle" fill="#666">180</text>
<line x1="604.6" y1="191.8" x2="604.6" y2="193.2" stroke="#88a" stroke-width="0.4"/>
<text x="623.6" y="197" font-size="4.3" text-anchor="middle" fill="#666">200</text>
<line x1="623.6" y1="191.8" x2="623.6" y2="193.2" stroke="#88a" stroke-width="0.4"/>
<text x="642.6" y="197" font-size="4.3" text-anchor="middle" fill="#666">220</text>
<line x1="642.6" y1="191.8" x2="642.6" y2="193.2" stroke="#88a" stroke-width="0.4"/>
<text x="661.6" y="197" font-size="4.3" text-anchor="middle" fill="#666">240</text>
<line x1="661.6" y1="191.8" x2="661.6" y2="193.2" stroke="#88a" stroke-width="0.4"/>
<text x="551.5" y="203.6" font-size="5.3" font-weight="bold" text-anchor="middle" fill="#222">chr 1 Genomic position (Mb)</text>
<text x="-0.3" y="14.30" font-family="Liberation Sans" font-size="18.3" font-weight="bold" font-style="normal" fill="#000" text-anchor="start">a</text>
<text x="386.6" y="14.60" font-family="Liberation Sans" font-size="19" font-weight="bold" font-style="normal" fill="#000" text-anchor="start">b</text>
<text x="361.3" y="263.00" font-family="Liberation Sans" font-size="19" font-weight="bold" font-style="normal" fill="#000" text-anchor="start">c</text>
<text x="15.8" y="8.20" font-family="Liberation Serif" font-size="11.8" font-weight="normal" font-style="normal" fill="#1f7fb0" text-anchor="start" style="letter-spacing:-0.25px;">Series</text>
<text x="64.5" y="25.42" font-family="Liberation Serif" font-size="6.4" font-weight="normal" font-style="normal" fill="#333" text-anchor="end">Series ID:</text>
<text x="69.5" y="25.29" font-family="Liberation Serif" font-size="6" font-weight="normal" font-style="normal" fill="#3b5fd8" text-anchor="start">GSE65183</text>
<text x="304" y="25.29" font-family="Liberation Serif" font-size="6" font-weight="normal" font-style="normal" fill="#444" text-anchor="end">PubMedID:</text>
<text x="309.5" y="25.29" font-family="Liberation Serif" font-size="6" font-weight="normal" font-style="normal" fill="#3b5fd8" text-anchor="start">26359985</text>
<text x="64.5" y="35.82" font-family="Liberation Serif" font-size="6.4" font-weight="normal" font-style="normal" fill="#333" text-anchor="end">Title:</text>
<text x="69.5" y="35.89" font-family="Liberation Serif" font-size="6" font-weight="normal" font-style="normal" fill="#444" text-anchor="start">Methylation changes in pre MAPKi treatment and post MAPKi resistance Melanomas</text>
<text x="64.5" y="47.02" font-family="Liberation Serif" font-size="6.4" font-weight="normal" font-style="normal" fill="#333" text-anchor="end">Status:</text>
<text x="69.5" y="46.89" font-family="Liberation Serif" font-size="6" font-weight="normal" font-style="normal" fill="#444" text-anchor="start">Public on Sep-15-2015</text>
<text x="64.5" y="61.72" font-family="Liberation Serif" font-size="6.4" font-weight="normal" font-style="normal" fill="#333" text-anchor="end">Samples(Tissue):</text>
<text x="69.5" y="56.99" font-family="Liberation Serif" font-size="6" font-weight="normal" font-style="normal" fill="#3b5fd8" text-anchor="start">GSM1588704, GSM1588705, GSM1588706, <tspan font-weight="bold" fill="#2233aa">GSM</tspan></text>
<text x="69.5" y="66.99" font-family="Liberation Serif" font-size="6" font-weight="normal" font-style="normal" fill="#3b5fd8" text-anchor="start">GSM1588711, GSM1588712, GSM1588713, GSM1588714, GSM1588715, <tspan fill="#5a1a8a">More...</tspan></text>
<text x="16" y="77.22" font-family="Liberation Serif" font-size="6.7" font-weight="bold" font-style="normal" fill="#333" text-anchor="start">Visualization options:</text>
<text x="16" y="89.77" font-family="Liberation Serif" font-size="5.95" font-weight="normal" font-style="normal" fill="#444" text-anchor="start">Signal value for genomic gains &gt;=</text>
<text x="16" y="101.27" font-family="Liberation Serif" font-size="5.95" font-weight="normal" font-style="normal" fill="#444" text-anchor="start">Signal value for genomic losses &lt;=</text>
<text x="101.2" y="88.63" font-family="Liberation Sans" font-size="4" font-weight="bold" font-style="normal" fill="#333" text-anchor="start">0.10</text>
<text x="102.8" y="100.83" font-family="Liberation Sans" font-size="4" font-weight="bold" font-style="normal" fill="#333" text-anchor="start">-0.10</text>
<text x="188" y="89.79" font-family="Liberation Serif" font-size="6" font-weight="normal" font-style="normal" fill="#444" text-anchor="start">Color for genomic gains:</text>
<text x="188" y="101.29" font-family="Liberation Serif" font-size="6" font-weight="normal" font-style="normal" fill="#444" text-anchor="start">Color for genomic losses:</text>
<text x="253" y="89.00" font-family="Liberation Sans" font-size="4.2" font-weight="bold" font-style="normal" fill="#222" text-anchor="start">red</text>
<path d="M270.2 85.6 l0.9 1.2 h-1.8z M270.2 89.2 l0.9 -1.2 h-1.8z" fill="#999"/>
<text x="254.8" y="100.90" font-family="Liberation Sans" font-size="4.2" font-weight="bold" font-style="normal" fill="#222" text-anchor="start">blue</text>
<path d="M272.2 97.6 l0.9 1.2 h-1.8z M272.2 101.2 l0.9 -1.2 h-1.8z" fill="#999"/>
<text x="53" y="111.69" font-family="Liberation Serif" font-size="4.8" font-weight="normal" font-style="normal" fill="#fff" text-anchor="middle">Submit</text>
<text x="16" y="122.45" font-family="Liberation Serif" font-size="5.9" font-weight="bold" font-style="normal" fill="#333" text-anchor="start">View Differentially Methylated Regions(DMRs)</text>
<text x="138" y="122.49" font-family="Liberation Serif" font-size="6" font-weight="bold" font-style="normal" fill="#222" text-anchor="start">of</text>
<text x="145" y="122.49" font-family="Liberation Serif" font-size="6" font-weight="normal" font-style="normal" fill="#3b5fd8" text-anchor="start">GSE65183</text>
<text x="186" y="148.98" font-family="Liberation Serif" font-size="9" font-weight="bold" font-style="normal" fill="#1f7fb0" text-anchor="middle" style="letter-spacing:-0.3px;">Copy number alteration frequency</text>
<text x="186" y="161.32" font-family="Liberation Serif" font-size="5.5" font-weight="normal" font-style="normal" fill="#fff" text-anchor="middle">GSE65183</text>
<text x="544.7" y="9.88" font-family="Liberation Serif" font-size="8.7" font-weight="normal" font-style="normal" fill="#1f7fb0" text-anchor="middle">DNA methylation &amp; copy number alterations plots</text>
<text x="545" y="22.36" font-family="Liberation Sans" font-size="5.2" font-weight="normal" font-style="normal" fill="#fff" text-anchor="middle">GSM1588706</text>
<text x="452.6" y="217.08" font-family="Liberation Serif" font-size="6.9" font-weight="normal" font-style="normal" fill="#444" text-anchor="end">start:</text>
<text x="456" y="216.43" font-family="Liberation Sans" font-size="4" font-weight="bold" font-style="normal" fill="#333" text-anchor="start">10</text>
<text x="528.8" y="217.08" font-family="Liberation Serif" font-size="6.9" font-weight="normal" font-style="normal" fill="#444" text-anchor="end">end:</text>
<text x="531.5" y="216.43" font-family="Liberation Sans" font-size="4" font-weight="bold" font-style="normal" fill="#333" text-anchor="start">20</text>
<text x="606.5" y="216.05" font-family="Liberation Sans" font-size="4.6" font-weight="normal" font-style="normal" fill="#fff" text-anchor="middle">zoom in</text>
<text x="380.4" y="252.28" font-family="Liberation Serif" font-size="7.2" font-weight="normal" font-style="normal" fill="#3a8cc0" text-anchor="start" style="letter-spacing:-0.3px;">DMRs of GSE65183</text>
<text x="380.4" y="263.39" font-family="Liberation Serif" font-size="6" font-weight="normal" font-style="normal" fill="#333" text-anchor="start">Chromosome:</text>
<text x="418" y="263.63" font-family="Liberation Sans" font-size="4" font-weight="normal" font-style="normal" fill="#222" text-anchor="start">1</text>
<path d="M427 260.4 l0.9 1.2 h-1.8z M427 264 l0.9 -1.2 h-1.8z" fill="#999"/>
<text x="441.6" y="263.70" font-family="Liberation Sans" font-size="4.2" font-weight="bold" font-style="normal" fill="#fff" text-anchor="middle">View</text>
<text x="380.4" y="275.85" font-family="Liberation Serif" font-size="5.9" font-weight="normal" font-style="normal" fill="#222" text-anchor="start">There are totally 1236 DMRs found in chromosome 1</text>
<text x="394.8" y="286.15" font-family="Liberation Serif" font-size="5.3" font-weight="bold" font-style="normal" fill="#fff" text-anchor="middle">Chr</text>
<text x="427" y="286.15" font-family="Liberation Serif" font-size="5.3" font-weight="bold" font-style="normal" fill="#fff" text-anchor="middle">Gene</text>
<text x="461.2" y="286.15" font-family="Liberation Serif" font-size="5.3" font-weight="bold" font-style="normal" fill="#fff" text-anchor="middle">Start</text>
<text x="494.5" y="286.15" font-family="Liberation Serif" font-size="5.3" font-weight="bold" font-style="normal" fill="#fff" text-anchor="middle">End</text>
<text x="534" y="286.15" font-family="Liberation Serif" font-size="5.3" font-weight="bold" font-style="normal" fill="#fff" text-anchor="middle">Average of Control</text>
<text x="580.3" y="286.15" font-family="Liberation Serif" font-size="5.3" font-weight="bold" font-style="normal" fill="#fff" text-anchor="middle">Average of Tumor</text>
<text x="627" y="286.15" font-family="Liberation Serif" font-size="5.3" font-weight="bold" font-style="normal" fill="#fff" text-anchor="middle">Delta Beta</text>
<text x="667.7" y="286.15" font-family="Liberation Serif" font-size="5.3" font-weight="bold" font-style="normal" fill="#fff" text-anchor="middle">Link to UCSC</text>
<text x="394.8" y="298.35" font-family="Liberation Serif" font-size="5.3" font-weight="normal" font-style="normal" fill="#333" text-anchor="middle">1</text>
<text x="409" y="295.45" font-family="Liberation Serif" font-size="5.6" font-weight="normal" font-style="normal" fill="#3b5fd8" text-anchor="start">RP5-857K21.6,</text>
<text x="409" y="303.15" font-family="Liberation Serif" font-size="5.6" font-weight="normal" font-style="normal" fill="#3b5fd8" text-anchor="start">RP5-857</text>
<text x="444.7" y="298.35" font-family="Liberation Serif" font-size="5.3" font-weight="normal" font-style="normal" fill="#222" text-anchor="start">565082</text>
<text x="479" y="298.35" font-family="Liberation Serif" font-size="5.3" font-weight="normal" font-style="normal" fill="#222" text-anchor="start">567483</text>
<text x="512" y="298.35" font-family="Liberation Serif" font-size="5.3" font-weight="normal" font-style="normal" fill="#222" text-anchor="start">0.125346172361</text>
<text x="557.6" y="298.35" font-family="Liberation Serif" font-size="5.3" font-weight="normal" font-style="normal" fill="#222" text-anchor="start">0.356962826963</text>
<text x="604.4" y="298.35" font-family="Liberation Serif" font-size="5.3" font-weight="normal" font-style="normal" fill="#222" text-anchor="start">0.161416471004</text>
<text x="667.7" y="298.45" font-family="Liberation Serif" font-size="5.6" font-weight="normal" font-style="normal" fill="#3b5fd8" text-anchor="middle">UCSC</text>
<text x="394.8" y="312.00" font-family="Liberation Serif" font-size="5.3" font-weight="normal" font-style="normal" fill="#333" text-anchor="middle">1</text>
<text x="409" y="312.10" font-family="Liberation Serif" font-size="5.6" font-weight="normal" font-style="normal" fill="#3b5fd8" text-anchor="start">RP11-54O7.1</text>
<text x="444.7" y="312.00" font-family="Liberation Serif" font-size="5.3" font-weight="normal" font-style="normal" fill="#222" text-anchor="start">846466</text>
<text x="479" y="312.00" font-family="Liberation Serif" font-size="5.3" font-weight="normal" font-style="normal" fill="#222" text-anchor="start">851341</text>
<text x="512" y="312.00" font-family="Liberation Serif" font-size="5.3" font-weight="normal" font-style="normal" fill="#222" text-anchor="start">0.583208659353</text>
<text x="557.6" y="312.00" font-family="Liberation Serif" font-size="5.3" font-weight="normal" font-style="normal" fill="#222" text-anchor="start">0.444024337150</text>
<text x="604.4" y="312.00" font-family="Liberation Serif" font-size="5.3" font-weight="normal" font-style="normal" fill="#222" text-anchor="start">-0.139183127337</text>
<text x="667.7" y="312.10" font-family="Liberation Serif" font-size="5.6" font-weight="normal" font-style="normal" fill="#3b5fd8" text-anchor="middle">UCSC</text>
<text x="394.8" y="322.50" font-family="Liberation Serif" font-size="5.3" font-weight="normal" font-style="normal" fill="#333" text-anchor="middle">1</text>
<text x="409" y="322.60" font-family="Liberation Serif" font-size="5.6" font-weight="normal" font-style="normal" fill="#3b5fd8" text-anchor="start">RP11-54O7.3</text>
<text x="444.7" y="322.50" font-family="Liberation Serif" font-size="5.3" font-weight="normal" font-style="normal" fill="#222" text-anchor="start">854583</text>
<text x="479" y="322.50" font-family="Liberation Serif" font-size="5.3" font-weight="normal" font-style="normal" fill="#222" text-anchor="start">854848</text>
<text x="512" y="322.50" font-family="Liberation Serif" font-size="5.3" font-weight="normal" font-style="normal" fill="#222" text-anchor="start">0.947777857317</text>
<text x="557.6" y="322.50" font-family="Liberation Serif" font-size="5.3" font-weight="normal" font-style="normal" fill="#222" text-anchor="start">0.653800487518</text>
<text x="604.4" y="322.50" font-family="Liberation Serif" font-size="5.3" font-weight="normal" font-style="normal" fill="#222" text-anchor="start">-0.293977379799</text>
<text x="667.7" y="322.60" font-family="Liberation Serif" font-size="5.6" font-weight="normal" font-style="normal" fill="#3b5fd8" text-anchor="middle">UCSC</text>
<text x="394.8" y="332.95" font-family="Liberation Serif" font-size="5.3" font-weight="normal" font-style="normal" fill="#333" text-anchor="middle">1</text>
<text x="409" y="333.05" font-family="Liberation Serif" font-size="5.6" font-weight="normal" font-style="normal" fill="#3b5fd8" text-anchor="start">SAMD11</text>
<text x="444.7" y="332.95" font-family="Liberation Serif" font-size="5.3" font-weight="normal" font-style="normal" fill="#222" text-anchor="start">865993</text>
<text x="479" y="332.95" font-family="Liberation Serif" font-size="5.3" font-weight="normal" font-style="normal" fill="#222" text-anchor="start">866347</text>
<text x="512" y="332.95" font-family="Liberation Serif" font-size="5.3" font-weight="normal" font-style="normal" fill="#222" text-anchor="start">0.471123565854</text>
<text x="557.6" y="332.95" font-family="Liberation Serif" font-size="5.3" font-weight="normal" font-style="normal" fill="#222" text-anchor="start">0.173347866855</text>
<text x="604.4" y="332.95" font-family="Liberation Serif" font-size="5.3" font-weight="normal" font-style="normal" fill="#222" text-anchor="start">-0.297775709101</text>
<text x="667.7" y="333.05" font-family="Liberation Serif" font-size="5.6" font-weight="normal" font-style="normal" fill="#3b5fd8" text-anchor="middle">UCSC</text>
<text x="394.8" y="343.25" font-family="Liberation Serif" font-size="5.3" font-weight="normal" font-style="normal" fill="#333" text-anchor="middle">1</text>
<text x="409" y="343.35" font-family="Liberation Serif" font-size="5.6" font-weight="normal" font-style="normal" fill="#3b5fd8" text-anchor="start">SAMD11</text>
<text x="444.7" y="343.25" font-family="Liberation Serif" font-size="5.3" font-weight="normal" font-style="normal" fill="#222" text-anchor="start">870830</text>
<text x="479" y="343.25" font-family="Liberation Serif" font-size="5.3" font-weight="normal" font-style="normal" fill="#222" text-anchor="start">871115</text>
<text x="512" y="343.25" font-family="Liberation Serif" font-size="5.3" font-weight="normal" font-style="normal" fill="#222" text-anchor="start">0.430943040471</text>
<text x="557.6" y="343.25" font-family="Liberation Serif" font-size="5.3" font-weight="normal" font-style="normal" fill="#222" text-anchor="start">0.234177778959</text>
<text x="604.4" y="343.25" font-family="Liberation Serif" font-size="5.3" font-weight="normal" font-style="normal" fill="#222" text-anchor="start">-0.196513045413</text>
<text x="667.7" y="343.35" font-family="Liberation Serif" font-size="5.6" font-weight="normal" font-style="normal" fill="#3b5fd8" text-anchor="middle">UCSC</text>
<rect x="138.4" y="47.2" width="43.6" height="14" rx="7" ry="7" fill="none" stroke="#b1402e" stroke-width="2.3"/>
<rect x="133.6" y="113.4" width="44.4" height="15" rx="7.5" ry="7.5" fill="none" stroke="#b1402e" stroke-width="2.3"/>
<polygon fill="#b1402e" points="191,51.6 366,51.6 366,49 385,54.2 366,59.2 366,56.6 191,56.6"/>
<polygon fill="#b1402e" points="180.0,129.1 340.3,224.9 338.5,227.9 357.0,232.0 344.6,217.6 342.8,220.6 182.6,124.9"/></svg>
</div></body></html>
